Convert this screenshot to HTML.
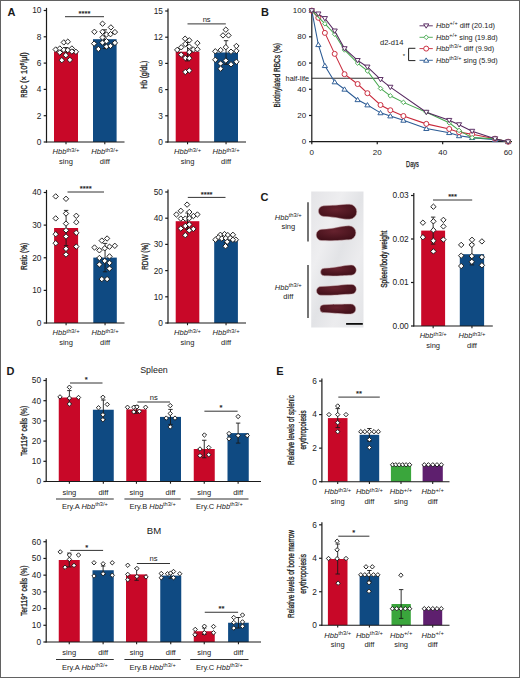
<!DOCTYPE html>
<html><head><meta charset="utf-8"><title>Figure</title>
<style>
html,body{margin:0;padding:0;background:#fff;}
body{width:520px;height:678px;overflow:hidden;position:relative;}
svg{position:absolute;left:0;top:0;display:block;}
svg text{font-family:"Liberation Sans", sans-serif;fill:#1a1a1a;}
.frame{position:absolute;left:0;top:0;width:518px;height:676px;border:1px solid #626262;}
</style></head><body>
<svg width="520" height="678" viewBox="0 0 520 678">
<text x="7.4" y="15.9" font-size="11" text-anchor="start" font-weight="bold" fill="#000">A</text>
<text x="261" y="15.7" font-size="11" text-anchor="start" font-weight="bold" fill="#000">B</text>
<text x="260.6" y="200.6" font-size="11" text-anchor="start" font-weight="bold" fill="#000">C</text>
<text x="6.6" y="374.8" font-size="11" text-anchor="start" font-weight="bold" fill="#000">D</text>
<text x="276.2" y="374.6" font-size="11" text-anchor="start" font-weight="bold" fill="#000">E</text>
<line x1="46.5" y1="7.9" x2="46.5" y2="142.5" stroke="#1a1a1a" stroke-width="1.2"/>
<line x1="43.7" y1="142" x2="46.5" y2="142" stroke="#1a1a1a" stroke-width="1.2"/>
<text x="41.4" y="144.91" font-size="8.3" text-anchor="end">0</text>
<line x1="43.7" y1="115.7" x2="46.5" y2="115.7" stroke="#1a1a1a" stroke-width="1.2"/>
<text x="41.4" y="118.61" font-size="8.3" text-anchor="end">2</text>
<line x1="43.7" y1="89.4" x2="46.5" y2="89.4" stroke="#1a1a1a" stroke-width="1.2"/>
<text x="41.4" y="92.31" font-size="8.3" text-anchor="end">4</text>
<line x1="43.7" y1="63.1" x2="46.5" y2="63.1" stroke="#1a1a1a" stroke-width="1.2"/>
<text x="41.4" y="66" font-size="8.3" text-anchor="end">6</text>
<line x1="43.7" y1="36.8" x2="46.5" y2="36.8" stroke="#1a1a1a" stroke-width="1.2"/>
<text x="41.4" y="39.7" font-size="8.3" text-anchor="end">8</text>
<line x1="43.7" y1="10.5" x2="46.5" y2="10.5" stroke="#1a1a1a" stroke-width="1.2"/>
<text x="41.4" y="13.41" font-size="8.3" text-anchor="end">10</text>
<rect x="54" y="51.5" width="24" height="90.5" fill="#c80828"/>
<rect x="93" y="39.2" width="23.6" height="102.8" fill="#0f4a82"/>
<line x1="46" y1="142" x2="124.5" y2="142" stroke="#1a1a1a" stroke-width="1.1"/>
<line x1="66" y1="142" x2="66" y2="144.2" stroke="#1a1a1a" stroke-width="1.1"/>
<line x1="104.8" y1="142" x2="104.8" y2="144.2" stroke="#1a1a1a" stroke-width="1.1"/>
<line x1="66" y1="47.5" x2="66" y2="55.5" stroke="#1a1a1a" stroke-width="0.9"/>
<line x1="63.8" y1="47.5" x2="68.2" y2="47.5" stroke="#1a1a1a" stroke-width="0.9"/>
<line x1="63.8" y1="55.5" x2="68.2" y2="55.5" stroke="#1a1a1a" stroke-width="0.9"/>
<line x1="104.8" y1="29.8" x2="104.8" y2="48.6" stroke="#1a1a1a" stroke-width="0.9"/>
<line x1="102.6" y1="29.8" x2="107" y2="29.8" stroke="#1a1a1a" stroke-width="0.9"/>
<line x1="102.6" y1="48.6" x2="107" y2="48.6" stroke="#1a1a1a" stroke-width="0.9"/>
<path d="M63.8 39.7L66.5 42.4L63.8 45.1L61.1 42.4Z" fill="#fff" stroke="#111" stroke-width="0.9"/>
<path d="M67.8 39L70.5 41.7L67.8 44.4L65.1 41.7Z" fill="#fff" stroke="#111" stroke-width="0.9"/>
<path d="M55.7 46.8L58.4 49.5L55.7 52.2L53 49.5Z" fill="#fff" stroke="#111" stroke-width="0.9"/>
<path d="M59.8 45.8L62.5 48.5L59.8 51.2L57.1 48.5Z" fill="#fff" stroke="#111" stroke-width="0.9"/>
<path d="M63.8 47.1L66.5 49.8L63.8 52.5L61.1 49.8Z" fill="#fff" stroke="#111" stroke-width="0.9"/>
<path d="M67.8 47.4L70.5 50.1L67.8 52.8L65.1 50.1Z" fill="#fff" stroke="#111" stroke-width="0.9"/>
<path d="M71.9 45.8L74.6 48.5L71.9 51.2L69.2 48.5Z" fill="#fff" stroke="#111" stroke-width="0.9"/>
<path d="M75.9 49.1L78.6 51.8L75.9 54.5L73.2 51.8Z" fill="#fff" stroke="#111" stroke-width="0.9"/>
<path d="M59.8 49.8L62.5 52.5L59.8 55.2L57.1 52.5Z" fill="#fff" stroke="#111" stroke-width="0.9"/>
<path d="M71.9 48.8L74.6 51.5L71.9 54.2L69.2 51.5Z" fill="#fff" stroke="#111" stroke-width="0.9"/>
<path d="M65.8 52.5L68.5 55.2L65.8 57.9L63.1 55.2Z" fill="#fff" stroke="#111" stroke-width="0.9"/>
<path d="M61.8 57.5L64.5 60.2L61.8 62.9L59.1 60.2Z" fill="#fff" stroke="#111" stroke-width="0.9"/>
<path d="M69.9 57.2L72.6 59.9L69.9 62.6L67.2 59.9Z" fill="#fff" stroke="#111" stroke-width="0.9"/>
<path d="M102.5 21L105.2 23.7L102.5 26.4L99.8 23.7Z" fill="#fff" stroke="#111" stroke-width="0.9"/>
<path d="M110.9 24.7L113.6 27.4L110.9 30.1L108.2 27.4Z" fill="#fff" stroke="#111" stroke-width="0.9"/>
<path d="M94.4 29.1L97.1 31.8L94.4 34.5L91.7 31.8Z" fill="#fff" stroke="#111" stroke-width="0.9"/>
<path d="M102.5 29.1L105.2 31.8L102.5 34.5L99.8 31.8Z" fill="#fff" stroke="#111" stroke-width="0.9"/>
<path d="M114.9 29.4L117.6 32.1L114.9 34.8L112.2 32.1Z" fill="#fff" stroke="#111" stroke-width="0.9"/>
<path d="M106.5 31.8L109.2 34.5L106.5 37.2L103.8 34.5Z" fill="#fff" stroke="#111" stroke-width="0.9"/>
<path d="M110.5 31.5L113.2 34.2L110.5 36.9L107.8 34.2Z" fill="#fff" stroke="#111" stroke-width="0.9"/>
<path d="M102.5 34.8L105.2 37.5L102.5 40.2L99.8 37.5Z" fill="#fff" stroke="#111" stroke-width="0.9"/>
<path d="M94.1 40.9L96.8 43.6L94.1 46.3L91.4 43.6Z" fill="#fff" stroke="#111" stroke-width="0.9"/>
<path d="M102.5 39.9L105.2 42.6L102.5 45.3L99.8 42.6Z" fill="#fff" stroke="#111" stroke-width="0.9"/>
<path d="M106.5 38.5L109.2 41.2L106.5 43.9L103.8 41.2Z" fill="#fff" stroke="#111" stroke-width="0.9"/>
<path d="M114.9 40.2L117.6 42.9L114.9 45.6L112.2 42.9Z" fill="#fff" stroke="#111" stroke-width="0.9"/>
<path d="M106.5 43.9L109.2 46.6L106.5 49.3L103.8 46.6Z" fill="#fff" stroke="#111" stroke-width="0.9"/>
<path d="M110.5 43.2L113.2 45.9L110.5 48.6L107.8 45.9Z" fill="#fff" stroke="#111" stroke-width="0.9"/>
<path d="M98.4 46.3L101.1 49L98.4 51.7L95.7 49Z" fill="#fff" stroke="#111" stroke-width="0.9"/>
<line x1="65" y1="16.7" x2="104" y2="16.7" stroke="#333" stroke-width="1.0"/>
<text x="84.5" y="15.9" font-size="7.6" text-anchor="middle" stroke="#1a1a1a" stroke-width="0.2">****</text>
<text x="66" y="154.4" font-size="7.6" text-anchor="middle"><tspan font-style="italic">Hbb</tspan><tspan font-size="5.8" dy="-2.5">th3/+</tspan></text>
<text x="66" y="163.8" font-size="7.5" text-anchor="middle">sing</text>
<text x="104.8" y="154.4" font-size="7.6" text-anchor="middle"><tspan font-style="italic">Hbb</tspan><tspan font-size="5.8" dy="-2.5">th3/+</tspan></text>
<text x="104.8" y="163.8" font-size="7.5" text-anchor="middle">diff</text>
<text transform="translate(26.6 97.8) rotate(-90)" x="0" y="0" font-size="9" stroke="#1a1a1a" stroke-width="0.3" text-anchor="start" textLength="12.6" lengthAdjust="spacingAndGlyphs">RBC</text>
<text transform="translate(26.6 83) rotate(-90)" x="0" y="0" font-size="9" stroke="#1a1a1a" stroke-width="0.3" text-anchor="start" textLength="30.8" lengthAdjust="spacingAndGlyphs">(× 10<tspan font-size="6" dy="-3">6</tspan><tspan dy="3">/μl)</tspan></text>
<line x1="168" y1="8.4" x2="168" y2="142.5" stroke="#1a1a1a" stroke-width="1.2"/>
<line x1="165.2" y1="142" x2="168" y2="142" stroke="#1a1a1a" stroke-width="1.2"/>
<text x="162.9" y="144.91" font-size="8.3" text-anchor="end">0</text>
<line x1="165.2" y1="115.8" x2="168" y2="115.8" stroke="#1a1a1a" stroke-width="1.2"/>
<text x="162.9" y="118.71" font-size="8.3" text-anchor="end">3</text>
<line x1="165.2" y1="89.6" x2="168" y2="89.6" stroke="#1a1a1a" stroke-width="1.2"/>
<text x="162.9" y="92.51" font-size="8.3" text-anchor="end">6</text>
<line x1="165.2" y1="63.4" x2="168" y2="63.4" stroke="#1a1a1a" stroke-width="1.2"/>
<text x="162.9" y="66.31" font-size="8.3" text-anchor="end">9</text>
<line x1="165.2" y1="37.2" x2="168" y2="37.2" stroke="#1a1a1a" stroke-width="1.2"/>
<text x="162.9" y="40.11" font-size="8.3" text-anchor="end">12</text>
<line x1="165.2" y1="11" x2="168" y2="11" stroke="#1a1a1a" stroke-width="1.2"/>
<text x="162.9" y="13.91" font-size="8.3" text-anchor="end">15</text>
<rect x="175.7" y="51.7" width="23.7" height="90.3" fill="#c80828"/>
<rect x="214.1" y="52.5" width="23.9" height="89.5" fill="#0f4a82"/>
<line x1="167.5" y1="142" x2="246" y2="142" stroke="#1a1a1a" stroke-width="1.1"/>
<line x1="187.55" y1="142" x2="187.55" y2="144.2" stroke="#1a1a1a" stroke-width="1.1"/>
<line x1="226.05" y1="142" x2="226.05" y2="144.2" stroke="#1a1a1a" stroke-width="1.1"/>
<line x1="187.55" y1="42.5" x2="187.55" y2="60.9" stroke="#1a1a1a" stroke-width="0.9"/>
<line x1="185.35" y1="42.5" x2="189.75" y2="42.5" stroke="#1a1a1a" stroke-width="0.9"/>
<line x1="185.35" y1="60.9" x2="189.75" y2="60.9" stroke="#1a1a1a" stroke-width="0.9"/>
<line x1="226.05" y1="40.7" x2="226.05" y2="64.3" stroke="#1a1a1a" stroke-width="0.9"/>
<line x1="223.85" y1="40.7" x2="228.25" y2="40.7" stroke="#1a1a1a" stroke-width="0.9"/>
<line x1="223.85" y1="64.3" x2="228.25" y2="64.3" stroke="#1a1a1a" stroke-width="0.9"/>
<path d="M185.1 36L187.8 38.7L185.1 41.4L182.4 38.7Z" fill="#fff" stroke="#111" stroke-width="0.9"/>
<path d="M189.3 37.6L192 40.3L189.3 43L186.6 40.3Z" fill="#fff" stroke="#111" stroke-width="0.9"/>
<path d="M197.4 40.4L200.1 43.1L197.4 45.8L194.7 43.1Z" fill="#fff" stroke="#111" stroke-width="0.9"/>
<path d="M185.3 41.3L188 44L185.3 46.7L182.6 44Z" fill="#fff" stroke="#111" stroke-width="0.9"/>
<path d="M189.3 43.9L192 46.6L189.3 49.3L186.6 46.6Z" fill="#fff" stroke="#111" stroke-width="0.9"/>
<path d="M181.2 44.6L183.9 47.3L181.2 50L178.5 47.3Z" fill="#fff" stroke="#111" stroke-width="0.9"/>
<path d="M177.2 47.2L179.9 49.9L177.2 52.6L174.5 49.9Z" fill="#fff" stroke="#111" stroke-width="0.9"/>
<path d="M193.4 46.8L196.1 49.5L193.4 52.2L190.7 49.5Z" fill="#fff" stroke="#111" stroke-width="0.9"/>
<path d="M197.4 46.6L200.1 49.3L197.4 52L194.7 49.3Z" fill="#fff" stroke="#111" stroke-width="0.9"/>
<path d="M189.3 49.4L192 52.1L189.3 54.8L186.6 52.1Z" fill="#fff" stroke="#111" stroke-width="0.9"/>
<path d="M181.2 52L183.9 54.7L181.2 57.4L178.5 54.7Z" fill="#fff" stroke="#111" stroke-width="0.9"/>
<path d="M185.3 55.3L188 58L185.3 60.7L182.6 58Z" fill="#fff" stroke="#111" stroke-width="0.9"/>
<path d="M189.3 55.5L192 58.2L189.3 60.9L186.6 58.2Z" fill="#fff" stroke="#111" stroke-width="0.9"/>
<path d="M185.3 69.3L188 72L185.3 74.7L182.6 72Z" fill="#fff" stroke="#111" stroke-width="0.9"/>
<path d="M189.3 67.8L192 70.5L189.3 73.2L186.6 70.5Z" fill="#fff" stroke="#111" stroke-width="0.9"/>
<path d="M225.8 27L228.5 29.7L225.8 32.4L223.1 29.7Z" fill="#fff" stroke="#111" stroke-width="0.9"/>
<path d="M223 32.7L225.7 35.4L223 38.1L220.3 35.4Z" fill="#fff" stroke="#111" stroke-width="0.9"/>
<path d="M228.5 32.7L231.2 35.4L228.5 38.1L225.8 35.4Z" fill="#fff" stroke="#111" stroke-width="0.9"/>
<path d="M225.8 44.5L228.5 47.2L225.8 49.9L223.1 47.2Z" fill="#fff" stroke="#111" stroke-width="0.9"/>
<path d="M236.4 43.3L239.1 46L236.4 48.7L233.7 46Z" fill="#fff" stroke="#111" stroke-width="0.9"/>
<path d="M215.3 48.6L218 51.3L215.3 54L212.6 51.3Z" fill="#fff" stroke="#111" stroke-width="0.9"/>
<path d="M220.6 47.4L223.3 50.1L220.6 52.8L217.9 50.1Z" fill="#fff" stroke="#111" stroke-width="0.9"/>
<path d="M231 49L233.7 51.7L231 54.4L228.3 51.7Z" fill="#fff" stroke="#111" stroke-width="0.9"/>
<path d="M236.4 48.2L239.1 50.9L236.4 53.6L233.7 50.9Z" fill="#fff" stroke="#111" stroke-width="0.9"/>
<path d="M215.3 57.1L218 59.8L215.3 62.5L212.6 59.8Z" fill="#fff" stroke="#111" stroke-width="0.9"/>
<path d="M225.8 57.9L228.5 60.6L225.8 63.3L223.1 60.6Z" fill="#fff" stroke="#111" stroke-width="0.9"/>
<path d="M220.6 60.8L223.3 63.5L220.6 66.2L217.9 63.5Z" fill="#fff" stroke="#111" stroke-width="0.9"/>
<path d="M231 61.6L233.7 64.3L231 67L228.3 64.3Z" fill="#fff" stroke="#111" stroke-width="0.9"/>
<path d="M236.4 59.1L239.1 61.8L236.4 64.5L233.7 61.8Z" fill="#fff" stroke="#111" stroke-width="0.9"/>
<path d="M220.6 66L223.3 68.7L220.6 71.4L217.9 68.7Z" fill="#fff" stroke="#111" stroke-width="0.9"/>
<line x1="187.5" y1="23.9" x2="225.8" y2="23.9" stroke="#333" stroke-width="1.0"/>
<text x="206.65" y="21.6" font-size="7.6" text-anchor="middle">ns</text>
<text x="187.55" y="154.4" font-size="7.6" text-anchor="middle"><tspan font-style="italic">Hbb</tspan><tspan font-size="5.8" dy="-2.5">th3/+</tspan></text>
<text x="187.55" y="163.8" font-size="7.5" text-anchor="middle">sing</text>
<text x="226.05" y="154.4" font-size="7.6" text-anchor="middle"><tspan font-style="italic">Hbb</tspan><tspan font-size="5.8" dy="-2.5">th3/+</tspan></text>
<text x="226.05" y="163.8" font-size="7.5" text-anchor="middle">diff</text>
<text transform="translate(147.3 74.75) rotate(-90)" x="0" y="0" font-size="8.8" stroke="#1a1a1a" stroke-width="0.3" text-anchor="middle" textLength="27.9" lengthAdjust="spacingAndGlyphs">Hb (g/dL)</text>
<line x1="46.5" y1="189.9" x2="46.5" y2="323.5" stroke="#1a1a1a" stroke-width="1.2"/>
<line x1="43.7" y1="323" x2="46.5" y2="323" stroke="#1a1a1a" stroke-width="1.2"/>
<text x="41.4" y="325.9" font-size="8.3" text-anchor="end">0</text>
<line x1="43.7" y1="290.38" x2="46.5" y2="290.38" stroke="#1a1a1a" stroke-width="1.2"/>
<text x="41.4" y="293.28" font-size="8.3" text-anchor="end">10</text>
<line x1="43.7" y1="257.75" x2="46.5" y2="257.75" stroke="#1a1a1a" stroke-width="1.2"/>
<text x="41.4" y="260.65" font-size="8.3" text-anchor="end">20</text>
<line x1="43.7" y1="225.12" x2="46.5" y2="225.12" stroke="#1a1a1a" stroke-width="1.2"/>
<text x="41.4" y="228.03" font-size="8.3" text-anchor="end">30</text>
<line x1="43.7" y1="192.5" x2="46.5" y2="192.5" stroke="#1a1a1a" stroke-width="1.2"/>
<text x="41.4" y="195.41" font-size="8.3" text-anchor="end">40</text>
<rect x="54.1" y="228" width="24" height="95" fill="#c80828"/>
<rect x="93.3" y="257.6" width="23.5" height="65.4" fill="#0f4a82"/>
<line x1="46" y1="323" x2="124.5" y2="323" stroke="#1a1a1a" stroke-width="1.1"/>
<line x1="66.1" y1="323" x2="66.1" y2="325.2" stroke="#1a1a1a" stroke-width="1.1"/>
<line x1="105.05" y1="323" x2="105.05" y2="325.2" stroke="#1a1a1a" stroke-width="1.1"/>
<line x1="66.1" y1="210.4" x2="66.1" y2="245.6" stroke="#1a1a1a" stroke-width="0.9"/>
<line x1="63.9" y1="210.4" x2="68.3" y2="210.4" stroke="#1a1a1a" stroke-width="0.9"/>
<line x1="63.9" y1="245.6" x2="68.3" y2="245.6" stroke="#1a1a1a" stroke-width="0.9"/>
<line x1="105.05" y1="243.4" x2="105.05" y2="271.8" stroke="#1a1a1a" stroke-width="0.9"/>
<line x1="102.85" y1="243.4" x2="107.25" y2="243.4" stroke="#1a1a1a" stroke-width="0.9"/>
<line x1="102.85" y1="271.8" x2="107.25" y2="271.8" stroke="#1a1a1a" stroke-width="0.9"/>
<path d="M55.7 193.7L58.4 196.4L55.7 199.1L53 196.4Z" fill="#fff" stroke="#111" stroke-width="0.9"/>
<path d="M66 196.1L68.7 198.8L66 201.5L63.3 198.8Z" fill="#fff" stroke="#111" stroke-width="0.9"/>
<path d="M66 210.8L68.7 213.5L66 216.2L63.3 213.5Z" fill="#fff" stroke="#111" stroke-width="0.9"/>
<path d="M55.7 215.7L58.4 218.4L55.7 221.1L53 218.4Z" fill="#fff" stroke="#111" stroke-width="0.9"/>
<path d="M76.3 213.1L79 215.8L76.3 218.5L73.6 215.8Z" fill="#fff" stroke="#111" stroke-width="0.9"/>
<path d="M76.3 219.5L79 222.2L76.3 224.9L73.6 222.2Z" fill="#fff" stroke="#111" stroke-width="0.9"/>
<path d="M66 220.9L68.7 223.6L66 226.3L63.3 223.6Z" fill="#fff" stroke="#111" stroke-width="0.9"/>
<path d="M66 227.6L68.7 230.3L66 233L63.3 230.3Z" fill="#fff" stroke="#111" stroke-width="0.9"/>
<path d="M55.7 231.5L58.4 234.2L55.7 236.9L53 234.2Z" fill="#fff" stroke="#111" stroke-width="0.9"/>
<path d="M76.3 230.1L79 232.8L76.3 235.5L73.6 232.8Z" fill="#fff" stroke="#111" stroke-width="0.9"/>
<path d="M66 233.8L68.7 236.5L66 239.2L63.3 236.5Z" fill="#fff" stroke="#111" stroke-width="0.9"/>
<path d="M55.7 240.5L58.4 243.2L55.7 245.9L53 243.2Z" fill="#fff" stroke="#111" stroke-width="0.9"/>
<path d="M76.3 243.9L79 246.6L76.3 249.3L73.6 246.6Z" fill="#fff" stroke="#111" stroke-width="0.9"/>
<path d="M66 246.1L68.7 248.8L66 251.5L63.3 248.8Z" fill="#fff" stroke="#111" stroke-width="0.9"/>
<path d="M66 251.8L68.7 254.5L66 257.2L63.3 254.5Z" fill="#fff" stroke="#111" stroke-width="0.9"/>
<path d="M101.8 237.9L104.5 240.6L101.8 243.3L99.1 240.6Z" fill="#fff" stroke="#111" stroke-width="0.9"/>
<path d="M107.1 235.8L109.8 238.5L107.1 241.2L104.4 238.5Z" fill="#fff" stroke="#111" stroke-width="0.9"/>
<path d="M94.5 244.8L97.2 247.5L94.5 250.2L91.8 247.5Z" fill="#fff" stroke="#111" stroke-width="0.9"/>
<path d="M99.4 247.6L102.1 250.3L99.4 253L96.7 250.3Z" fill="#fff" stroke="#111" stroke-width="0.9"/>
<path d="M104.7 245.6L107.4 248.3L104.7 251L102 248.3Z" fill="#fff" stroke="#111" stroke-width="0.9"/>
<path d="M109.5 244L112.2 246.7L109.5 249.4L106.8 246.7Z" fill="#fff" stroke="#111" stroke-width="0.9"/>
<path d="M114.8 243.1L117.5 245.8L114.8 248.5L112.1 245.8Z" fill="#fff" stroke="#111" stroke-width="0.9"/>
<path d="M99.4 255.3L102.1 258L99.4 260.7L96.7 258Z" fill="#fff" stroke="#111" stroke-width="0.9"/>
<path d="M109.5 253.7L112.2 256.4L109.5 259.1L106.8 256.4Z" fill="#fff" stroke="#111" stroke-width="0.9"/>
<path d="M104.7 258.2L107.4 260.9L104.7 263.6L102 260.9Z" fill="#fff" stroke="#111" stroke-width="0.9"/>
<path d="M99.4 261.8L102.1 264.5L99.4 267.2L96.7 264.5Z" fill="#fff" stroke="#111" stroke-width="0.9"/>
<path d="M109.5 260.2L112.2 262.9L109.5 265.6L106.8 262.9Z" fill="#fff" stroke="#111" stroke-width="0.9"/>
<path d="M109.5 265.9L112.2 268.6L109.5 271.3L106.8 268.6Z" fill="#fff" stroke="#111" stroke-width="0.9"/>
<path d="M101.8 276.4L104.5 279.1L101.8 281.8L99.1 279.1Z" fill="#fff" stroke="#111" stroke-width="0.9"/>
<path d="M107.1 276.4L109.8 279.1L107.1 281.8L104.4 279.1Z" fill="#fff" stroke="#111" stroke-width="0.9"/>
<line x1="67.5" y1="192" x2="104" y2="192" stroke="#333" stroke-width="1.0"/>
<text x="85.75" y="191.2" font-size="7.6" text-anchor="middle" stroke="#1a1a1a" stroke-width="0.2">****</text>
<text x="66.1" y="335.4" font-size="7.6" text-anchor="middle"><tspan font-style="italic">Hbb</tspan><tspan font-size="5.8" dy="-2.5">th3/+</tspan></text>
<text x="66.1" y="344.8" font-size="7.5" text-anchor="middle">sing</text>
<text x="105.05" y="335.4" font-size="7.6" text-anchor="middle"><tspan font-style="italic">Hbb</tspan><tspan font-size="5.8" dy="-2.5">th3/+</tspan></text>
<text x="105.05" y="344.8" font-size="7.5" text-anchor="middle">diff</text>
<text transform="translate(26.8 256.3) rotate(-90)" x="0" y="0" font-size="9" stroke="#1a1a1a" stroke-width="0.3" text-anchor="middle" textLength="27.2" lengthAdjust="spacingAndGlyphs">Retic (%)</text>
<line x1="168" y1="189.4" x2="168" y2="323.5" stroke="#1a1a1a" stroke-width="1.2"/>
<line x1="165.2" y1="323" x2="168" y2="323" stroke="#1a1a1a" stroke-width="1.2"/>
<text x="162.9" y="325.9" font-size="8.3" text-anchor="end">0</text>
<line x1="165.2" y1="296.8" x2="168" y2="296.8" stroke="#1a1a1a" stroke-width="1.2"/>
<text x="162.9" y="299.7" font-size="8.3" text-anchor="end">10</text>
<line x1="165.2" y1="270.6" x2="168" y2="270.6" stroke="#1a1a1a" stroke-width="1.2"/>
<text x="162.9" y="273.5" font-size="8.3" text-anchor="end">20</text>
<line x1="165.2" y1="244.4" x2="168" y2="244.4" stroke="#1a1a1a" stroke-width="1.2"/>
<text x="162.9" y="247.3" font-size="8.3" text-anchor="end">30</text>
<line x1="165.2" y1="218.2" x2="168" y2="218.2" stroke="#1a1a1a" stroke-width="1.2"/>
<text x="162.9" y="221.1" font-size="8.3" text-anchor="end">40</text>
<line x1="165.2" y1="192" x2="168" y2="192" stroke="#1a1a1a" stroke-width="1.2"/>
<text x="162.9" y="194.91" font-size="8.3" text-anchor="end">50</text>
<rect x="175.7" y="221.2" width="23.6" height="101.8" fill="#c80828"/>
<rect x="214.2" y="239.5" width="23.7" height="83.5" fill="#0f4a82"/>
<line x1="167.5" y1="323" x2="246" y2="323" stroke="#1a1a1a" stroke-width="1.1"/>
<line x1="187.5" y1="323" x2="187.5" y2="325.2" stroke="#1a1a1a" stroke-width="1.1"/>
<line x1="226.05" y1="323" x2="226.05" y2="325.2" stroke="#1a1a1a" stroke-width="1.1"/>
<line x1="187.5" y1="213" x2="187.5" y2="229.4" stroke="#1a1a1a" stroke-width="0.9"/>
<line x1="185.3" y1="213" x2="189.7" y2="213" stroke="#1a1a1a" stroke-width="0.9"/>
<line x1="185.3" y1="229.4" x2="189.7" y2="229.4" stroke="#1a1a1a" stroke-width="0.9"/>
<line x1="226.05" y1="236.5" x2="226.05" y2="242.5" stroke="#1a1a1a" stroke-width="0.9"/>
<line x1="223.85" y1="236.5" x2="228.25" y2="236.5" stroke="#1a1a1a" stroke-width="0.9"/>
<line x1="223.85" y1="242.5" x2="228.25" y2="242.5" stroke="#1a1a1a" stroke-width="0.9"/>
<path d="M187.1 201.9L189.8 204.6L187.1 207.3L184.4 204.6Z" fill="#fff" stroke="#111" stroke-width="0.9"/>
<path d="M180.8 208.1L183.5 210.8L180.8 213.5L178.1 210.8Z" fill="#fff" stroke="#111" stroke-width="0.9"/>
<path d="M189.3 209.3L192 212L189.3 214.7L186.6 212Z" fill="#fff" stroke="#111" stroke-width="0.9"/>
<path d="M176.4 211.8L179.1 214.5L176.4 217.2L173.7 214.5Z" fill="#fff" stroke="#111" stroke-width="0.9"/>
<path d="M193.4 213.3L196.1 216L193.4 218.7L190.7 216Z" fill="#fff" stroke="#111" stroke-width="0.9"/>
<path d="M197.4 211.8L200.1 214.5L197.4 217.2L194.7 214.5Z" fill="#fff" stroke="#111" stroke-width="0.9"/>
<path d="M180.8 215.9L183.5 218.6L180.8 221.3L178.1 218.6Z" fill="#fff" stroke="#111" stroke-width="0.9"/>
<path d="M185.3 215.9L188 218.6L185.3 221.3L182.6 218.6Z" fill="#fff" stroke="#111" stroke-width="0.9"/>
<path d="M189.3 215.5L192 218.2L189.3 220.9L186.6 218.2Z" fill="#fff" stroke="#111" stroke-width="0.9"/>
<path d="M189.3 221.8L192 224.5L189.3 227.2L186.6 224.5Z" fill="#fff" stroke="#111" stroke-width="0.9"/>
<path d="M185.3 223.3L188 226L185.3 228.7L182.6 226Z" fill="#fff" stroke="#111" stroke-width="0.9"/>
<path d="M180.8 225.8L183.5 228.5L180.8 231.2L178.1 228.5Z" fill="#fff" stroke="#111" stroke-width="0.9"/>
<path d="M189.3 227.7L192 230.4L189.3 233.1L186.6 230.4Z" fill="#fff" stroke="#111" stroke-width="0.9"/>
<path d="M193.4 226.2L196.1 228.9L193.4 231.6L190.7 228.9Z" fill="#fff" stroke="#111" stroke-width="0.9"/>
<path d="M185.3 232.5L188 235.2L185.3 237.9L182.6 235.2Z" fill="#fff" stroke="#111" stroke-width="0.9"/>
<path d="M220.4 232.1L223.1 234.8L220.4 237.5L217.7 234.8Z" fill="#fff" stroke="#111" stroke-width="0.9"/>
<path d="M224.5 231.4L227.2 234.1L224.5 236.8L221.8 234.1Z" fill="#fff" stroke="#111" stroke-width="0.9"/>
<path d="M227.8 232.4L230.5 235.1L227.8 237.8L225.1 235.1Z" fill="#fff" stroke="#111" stroke-width="0.9"/>
<path d="M232.9 232.1L235.6 234.8L232.9 237.5L230.2 234.8Z" fill="#fff" stroke="#111" stroke-width="0.9"/>
<path d="M218.4 234.7L221.1 237.4L218.4 240.1L215.7 237.4Z" fill="#fff" stroke="#111" stroke-width="0.9"/>
<path d="M221.8 235.8L224.5 238.5L221.8 241.2L219.1 238.5Z" fill="#fff" stroke="#111" stroke-width="0.9"/>
<path d="M225.8 235.4L228.5 238.1L225.8 240.8L223.1 238.1Z" fill="#fff" stroke="#111" stroke-width="0.9"/>
<path d="M230.2 235.4L232.9 238.1L230.2 240.8L227.5 238.1Z" fill="#fff" stroke="#111" stroke-width="0.9"/>
<path d="M215.4 237L218.1 239.7L215.4 242.4L212.7 239.7Z" fill="#fff" stroke="#111" stroke-width="0.9"/>
<path d="M235.9 237L238.6 239.7L235.9 242.4L233.2 239.7Z" fill="#fff" stroke="#111" stroke-width="0.9"/>
<path d="M232.9 237.1L235.6 239.8L232.9 242.5L230.2 239.8Z" fill="#fff" stroke="#111" stroke-width="0.9"/>
<path d="M227.2 239.1L229.9 241.8L227.2 244.5L224.5 241.8Z" fill="#fff" stroke="#111" stroke-width="0.9"/>
<path d="M225.5 243.5L228.2 246.2L225.5 248.9L222.8 246.2Z" fill="#fff" stroke="#111" stroke-width="0.9"/>
<line x1="187.8" y1="197.4" x2="225.5" y2="197.4" stroke="#333" stroke-width="1.0"/>
<text x="206.65" y="196.6" font-size="7.6" text-anchor="middle" stroke="#1a1a1a" stroke-width="0.2">****</text>
<text x="187.5" y="335.4" font-size="7.6" text-anchor="middle"><tspan font-style="italic">Hbb</tspan><tspan font-size="5.8" dy="-2.5">th3/+</tspan></text>
<text x="187.5" y="344.8" font-size="7.5" text-anchor="middle">sing</text>
<text x="226.05" y="335.4" font-size="7.6" text-anchor="middle"><tspan font-style="italic">Hbb</tspan><tspan font-size="5.8" dy="-2.5">th3/+</tspan></text>
<text x="226.05" y="344.8" font-size="7.5" text-anchor="middle">diff</text>
<text transform="translate(147.8 256.3) rotate(-90)" x="0" y="0" font-size="8.8" stroke="#1a1a1a" stroke-width="0.3" text-anchor="middle" textLength="27" lengthAdjust="spacingAndGlyphs">RDW (%)</text>
<line x1="413.8" y1="192.9" x2="413.8" y2="326.5" stroke="#1a1a1a" stroke-width="1.2"/>
<line x1="411" y1="326" x2="413.8" y2="326" stroke="#1a1a1a" stroke-width="1.2"/>
<text x="408.7" y="328.9" font-size="8.3" text-anchor="end">0.00</text>
<line x1="411" y1="282.5" x2="413.8" y2="282.5" stroke="#1a1a1a" stroke-width="1.2"/>
<text x="408.7" y="285.4" font-size="8.3" text-anchor="end">0.01</text>
<line x1="411" y1="239" x2="413.8" y2="239" stroke="#1a1a1a" stroke-width="1.2"/>
<text x="408.7" y="241.91" font-size="8.3" text-anchor="end">0.02</text>
<line x1="411" y1="195.5" x2="413.8" y2="195.5" stroke="#1a1a1a" stroke-width="1.2"/>
<text x="408.7" y="198.41" font-size="8.3" text-anchor="end">0.03</text>
<rect x="421.2" y="230.6" width="23.9" height="95.4" fill="#c80828"/>
<rect x="459.8" y="254.2" width="24.3" height="71.8" fill="#0f4a82"/>
<line x1="413.3" y1="326" x2="492.8" y2="326" stroke="#1a1a1a" stroke-width="1.1"/>
<line x1="433.15" y1="326" x2="433.15" y2="328.2" stroke="#1a1a1a" stroke-width="1.1"/>
<line x1="471.95" y1="326" x2="471.95" y2="328.2" stroke="#1a1a1a" stroke-width="1.1"/>
<line x1="433.15" y1="217.1" x2="433.15" y2="244.1" stroke="#1a1a1a" stroke-width="0.9"/>
<line x1="430.95" y1="217.1" x2="435.35" y2="217.1" stroke="#1a1a1a" stroke-width="0.9"/>
<line x1="430.95" y1="244.1" x2="435.35" y2="244.1" stroke="#1a1a1a" stroke-width="0.9"/>
<line x1="471.95" y1="243.5" x2="471.95" y2="264.9" stroke="#1a1a1a" stroke-width="0.9"/>
<line x1="469.75" y1="243.5" x2="474.15" y2="243.5" stroke="#1a1a1a" stroke-width="0.9"/>
<line x1="469.75" y1="264.9" x2="474.15" y2="264.9" stroke="#1a1a1a" stroke-width="0.9"/>
<path d="M433.4 204L436.1 206.7L433.4 209.4L430.7 206.7Z" fill="#fff" stroke="#111" stroke-width="0.9"/>
<path d="M422.9 220L425.6 222.7L422.9 225.4L420.2 222.7Z" fill="#fff" stroke="#111" stroke-width="0.9"/>
<path d="M433.4 218.6L436.1 221.3L433.4 224L430.7 221.3Z" fill="#fff" stroke="#111" stroke-width="0.9"/>
<path d="M443.4 217.2L446.1 219.9L443.4 222.6L440.7 219.9Z" fill="#fff" stroke="#111" stroke-width="0.9"/>
<path d="M443.4 223.7L446.1 226.4L443.4 229.1L440.7 226.4Z" fill="#fff" stroke="#111" stroke-width="0.9"/>
<path d="M433.4 227.5L436.1 230.2L433.4 232.9L430.7 230.2Z" fill="#fff" stroke="#111" stroke-width="0.9"/>
<path d="M422.9 234.5L425.6 237.2L422.9 239.9L420.2 237.2Z" fill="#fff" stroke="#111" stroke-width="0.9"/>
<path d="M433.4 238L436.1 240.7L433.4 243.4L430.7 240.7Z" fill="#fff" stroke="#111" stroke-width="0.9"/>
<path d="M443.4 236.9L446.1 239.6L443.4 242.3L440.7 239.6Z" fill="#fff" stroke="#111" stroke-width="0.9"/>
<path d="M433.4 248.7L436.1 251.4L433.4 254.1L430.7 251.4Z" fill="#fff" stroke="#111" stroke-width="0.9"/>
<path d="M472 237.1L474.7 239.8L472 242.5L469.3 239.8Z" fill="#fff" stroke="#111" stroke-width="0.9"/>
<path d="M481.9 238.7L484.6 241.4L481.9 244.1L479.2 241.4Z" fill="#fff" stroke="#111" stroke-width="0.9"/>
<path d="M461.2 242.2L463.9 244.9L461.2 247.6L458.5 244.9Z" fill="#fff" stroke="#111" stroke-width="0.9"/>
<path d="M471.8 242.2L474.5 244.9L471.8 247.6L469.1 244.9Z" fill="#fff" stroke="#111" stroke-width="0.9"/>
<path d="M461.2 253L463.9 255.7L461.2 258.4L458.5 255.7Z" fill="#fff" stroke="#111" stroke-width="0.9"/>
<path d="M471.8 253.4L474.5 256.1L471.8 258.8L469.1 256.1Z" fill="#fff" stroke="#111" stroke-width="0.9"/>
<path d="M481.9 254.4L484.6 257.1L481.9 259.8L479.2 257.1Z" fill="#fff" stroke="#111" stroke-width="0.9"/>
<path d="M471.8 259.1L474.5 261.8L471.8 264.5L469.1 261.8Z" fill="#fff" stroke="#111" stroke-width="0.9"/>
<path d="M461.2 263.3L463.9 266L461.2 268.7L458.5 266Z" fill="#fff" stroke="#111" stroke-width="0.9"/>
<path d="M481.9 262.6L484.6 265.3L481.9 268L479.2 265.3Z" fill="#fff" stroke="#111" stroke-width="0.9"/>
<line x1="433" y1="200" x2="472.2" y2="200" stroke="#333" stroke-width="1.0"/>
<text x="452.6" y="199.2" font-size="7.6" text-anchor="middle" stroke="#1a1a1a" stroke-width="0.2">***</text>
<text x="433.15" y="338.4" font-size="7.6" text-anchor="middle"><tspan font-style="italic">Hbb</tspan><tspan font-size="5.8" dy="-2.5">th3/+</tspan></text>
<text x="433.15" y="347.8" font-size="7.5" text-anchor="middle">sing</text>
<text x="471.95" y="338.4" font-size="7.6" text-anchor="middle"><tspan font-style="italic">Hbb</tspan><tspan font-size="5.8" dy="-2.5">th3/+</tspan></text>
<text x="471.95" y="347.8" font-size="7.5" text-anchor="middle">diff</text>
<text transform="translate(386.9 259.2) rotate(-90)" x="0" y="0" font-size="8.4" stroke="#1a1a1a" stroke-width="0.3" text-anchor="middle" textLength="57.2" lengthAdjust="spacingAndGlyphs">Spleen/body weight</text>
<line x1="311.8" y1="8.3" x2="311.8" y2="142.2" stroke="#1a1a1a" stroke-width="1.2"/>
<line x1="309" y1="141.7" x2="311.8" y2="141.7" stroke="#1a1a1a" stroke-width="1.2"/>
<text x="306.2" y="144.35" font-size="8" text-anchor="end">0</text>
<line x1="309" y1="115.48" x2="311.8" y2="115.48" stroke="#1a1a1a" stroke-width="1.2"/>
<text x="306.2" y="118.13" font-size="8" text-anchor="end">20</text>
<line x1="309" y1="89.26" x2="311.8" y2="89.26" stroke="#1a1a1a" stroke-width="1.2"/>
<text x="306.2" y="91.91" font-size="8" text-anchor="end">40</text>
<line x1="309" y1="63.04" x2="311.8" y2="63.04" stroke="#1a1a1a" stroke-width="1.2"/>
<text x="306.2" y="65.69" font-size="8" text-anchor="end">60</text>
<line x1="309" y1="36.82" x2="311.8" y2="36.82" stroke="#1a1a1a" stroke-width="1.2"/>
<text x="306.2" y="39.47" font-size="8" text-anchor="end">80</text>
<line x1="309" y1="10.6" x2="311.8" y2="10.6" stroke="#1a1a1a" stroke-width="1.2"/>
<text x="306.2" y="13.25" font-size="8" text-anchor="end">100</text>
<line x1="311.2" y1="141.7" x2="512" y2="141.7" stroke="#1a1a1a" stroke-width="1.2"/>
<line x1="311.8" y1="141.7" x2="311.8" y2="144.2" stroke="#1a1a1a" stroke-width="1.2"/>
<text x="311.8" y="154.6" font-size="8" text-anchor="middle">0</text>
<line x1="377.24" y1="141.7" x2="377.24" y2="144.2" stroke="#1a1a1a" stroke-width="1.2"/>
<text x="377.24" y="154.6" font-size="8" text-anchor="middle">20</text>
<line x1="442.68" y1="141.7" x2="442.68" y2="144.2" stroke="#1a1a1a" stroke-width="1.2"/>
<text x="442.68" y="154.6" font-size="8" text-anchor="middle">40</text>
<line x1="508.12" y1="141.7" x2="508.12" y2="144.2" stroke="#1a1a1a" stroke-width="1.2"/>
<text x="508.12" y="154.6" font-size="8" text-anchor="middle">60</text>
<text x="412.5" y="167.2" font-size="8.8" stroke="#1a1a1a" stroke-width="0.25" text-anchor="middle" textLength="12.8" lengthAdjust="spacingAndGlyphs">Days</text>
<text transform="translate(279.8 75.2) rotate(-90)" x="0" y="0" font-size="8.8" stroke="#1a1a1a" stroke-width="0.3" text-anchor="middle" textLength="64.4" lengthAdjust="spacingAndGlyphs">Biotinylated RBCs (%)</text>
<line x1="311.8" y1="78.3" x2="380" y2="78.3" stroke="#333" stroke-width="1.1"/>
<text x="285.6" y="80.6" font-size="7.3" text-anchor="start">half-life</text>
<polyline points="311.8,10.6 318.34,44.69 324.89,65.66 334.7,81.92 344.52,89.26 357.61,99.75 367.42,104.99 380.51,112.86 390.33,116 403.42,120.33 426.32,128.59 449.22,132.65 459.04,135.8 472.13,137.64 495.03,139.73 508.12,141.7" fill="none" stroke="#2a5a94" stroke-width="1.05"/>
<path d="M309.2 12.5L314.4 12.5L311.8 8.2Z" fill="#fff" stroke="#2a5a94" stroke-width="0.95"/>
<path d="M315.74 46.59L320.94 46.59L318.34 42.29Z" fill="#fff" stroke="#2a5a94" stroke-width="0.95"/>
<path d="M322.29 67.56L327.49 67.56L324.89 63.26Z" fill="#fff" stroke="#2a5a94" stroke-width="0.95"/>
<path d="M332.1 83.82L337.3 83.82L334.7 79.52Z" fill="#fff" stroke="#2a5a94" stroke-width="0.95"/>
<path d="M341.92 91.16L347.12 91.16L344.52 86.86Z" fill="#fff" stroke="#2a5a94" stroke-width="0.95"/>
<path d="M355.01 101.65L360.21 101.65L357.61 97.35Z" fill="#fff" stroke="#2a5a94" stroke-width="0.95"/>
<path d="M364.82 106.89L370.02 106.89L367.42 102.59Z" fill="#fff" stroke="#2a5a94" stroke-width="0.95"/>
<path d="M377.91 114.76L383.11 114.76L380.51 110.46Z" fill="#fff" stroke="#2a5a94" stroke-width="0.95"/>
<path d="M387.73 117.9L392.93 117.9L390.33 113.6Z" fill="#fff" stroke="#2a5a94" stroke-width="0.95"/>
<path d="M400.82 122.23L406.02 122.23L403.42 117.93Z" fill="#fff" stroke="#2a5a94" stroke-width="0.95"/>
<path d="M423.72 130.49L428.92 130.49L426.32 126.19Z" fill="#fff" stroke="#2a5a94" stroke-width="0.95"/>
<path d="M446.62 134.55L451.82 134.55L449.22 130.25Z" fill="#fff" stroke="#2a5a94" stroke-width="0.95"/>
<path d="M456.44 137.7L461.64 137.7L459.04 133.4Z" fill="#fff" stroke="#2a5a94" stroke-width="0.95"/>
<path d="M469.53 139.54L474.73 139.54L472.13 135.24Z" fill="#fff" stroke="#2a5a94" stroke-width="0.95"/>
<path d="M492.43 141.63L497.63 141.63L495.03 137.33Z" fill="#fff" stroke="#2a5a94" stroke-width="0.95"/>
<path d="M505.52 143.6L510.72 143.6L508.12 139.3Z" fill="#fff" stroke="#2a5a94" stroke-width="0.95"/>
<polyline points="311.8,10.6 318.34,17.81 324.89,32.89 334.7,53.86 344.52,74.18 357.61,84.02 367.42,93.19 380.51,104.99 390.33,110.24 403.42,116 426.32,123.87 449.22,128.98 459.04,132.13 472.13,134.23 495.03,138.68 508.12,141.7" fill="none" stroke="#c8283a" stroke-width="1.05"/>
<circle cx="311.8" cy="10.6" r="2.5" fill="#fff" stroke="#c8283a" stroke-width="0.95"/>
<circle cx="318.34" cy="17.81" r="2.5" fill="#fff" stroke="#c8283a" stroke-width="0.95"/>
<circle cx="324.89" cy="32.89" r="2.5" fill="#fff" stroke="#c8283a" stroke-width="0.95"/>
<circle cx="334.7" cy="53.86" r="2.5" fill="#fff" stroke="#c8283a" stroke-width="0.95"/>
<circle cx="344.52" cy="74.18" r="2.5" fill="#fff" stroke="#c8283a" stroke-width="0.95"/>
<circle cx="357.61" cy="84.02" r="2.5" fill="#fff" stroke="#c8283a" stroke-width="0.95"/>
<circle cx="367.42" cy="93.19" r="2.5" fill="#fff" stroke="#c8283a" stroke-width="0.95"/>
<circle cx="380.51" cy="104.99" r="2.5" fill="#fff" stroke="#c8283a" stroke-width="0.95"/>
<circle cx="390.33" cy="110.24" r="2.5" fill="#fff" stroke="#c8283a" stroke-width="0.95"/>
<circle cx="403.42" cy="116" r="2.5" fill="#fff" stroke="#c8283a" stroke-width="0.95"/>
<circle cx="426.32" cy="123.87" r="2.5" fill="#fff" stroke="#c8283a" stroke-width="0.95"/>
<circle cx="449.22" cy="128.98" r="2.5" fill="#fff" stroke="#c8283a" stroke-width="0.95"/>
<circle cx="459.04" cy="132.13" r="2.5" fill="#fff" stroke="#c8283a" stroke-width="0.95"/>
<circle cx="472.13" cy="134.23" r="2.5" fill="#fff" stroke="#c8283a" stroke-width="0.95"/>
<circle cx="495.03" cy="138.68" r="2.5" fill="#fff" stroke="#c8283a" stroke-width="0.95"/>
<circle cx="508.12" cy="141.7" r="2.5" fill="#fff" stroke="#c8283a" stroke-width="0.95"/>
<polyline points="311.8,10.6 324.89,23.71 334.7,34.2 344.52,49.93 357.61,63.04 367.42,70.91 380.51,88.47 390.33,95.81 403.42,102.37 426.32,112.2 449.22,122.82 459.04,130.43 472.13,137.64 495.03,138.68 508.12,141.7" fill="none" stroke="#46a84f" stroke-width="1.05"/>
<path d="M311.8 8.3L314.1 10.6L311.8 12.9L309.5 10.6Z" fill="#fff" stroke="#46a84f" stroke-width="0.95"/>
<path d="M324.89 21.41L327.19 23.71L324.89 26.01L322.59 23.71Z" fill="#fff" stroke="#46a84f" stroke-width="0.95"/>
<path d="M334.7 31.9L337 34.2L334.7 36.5L332.4 34.2Z" fill="#fff" stroke="#46a84f" stroke-width="0.95"/>
<path d="M344.52 47.63L346.82 49.93L344.52 52.23L342.22 49.93Z" fill="#fff" stroke="#46a84f" stroke-width="0.95"/>
<path d="M357.61 60.74L359.91 63.04L357.61 65.34L355.31 63.04Z" fill="#fff" stroke="#46a84f" stroke-width="0.95"/>
<path d="M367.42 68.61L369.72 70.91L367.42 73.21L365.12 70.91Z" fill="#fff" stroke="#46a84f" stroke-width="0.95"/>
<path d="M380.51 86.17L382.81 88.47L380.51 90.77L378.21 88.47Z" fill="#fff" stroke="#46a84f" stroke-width="0.95"/>
<path d="M390.33 93.52L392.63 95.81L390.33 98.11L388.03 95.81Z" fill="#fff" stroke="#46a84f" stroke-width="0.95"/>
<path d="M403.42 100.07L405.72 102.37L403.42 104.67L401.12 102.37Z" fill="#fff" stroke="#46a84f" stroke-width="0.95"/>
<path d="M426.32 109.9L428.62 112.2L426.32 114.5L424.02 112.2Z" fill="#fff" stroke="#46a84f" stroke-width="0.95"/>
<path d="M449.22 120.52L451.52 122.82L449.22 125.12L446.92 122.82Z" fill="#fff" stroke="#46a84f" stroke-width="0.95"/>
<path d="M459.04 128.13L461.34 130.43L459.04 132.73L456.74 130.43Z" fill="#fff" stroke="#46a84f" stroke-width="0.95"/>
<path d="M472.13 135.34L474.43 137.64L472.13 139.94L469.83 137.64Z" fill="#fff" stroke="#46a84f" stroke-width="0.95"/>
<path d="M495.03 136.38L497.33 138.68L495.03 140.98L492.73 138.68Z" fill="#fff" stroke="#46a84f" stroke-width="0.95"/>
<path d="M508.12 139.4L510.42 141.7L508.12 144L505.82 141.7Z" fill="#fff" stroke="#46a84f" stroke-width="0.95"/>
<polyline points="311.8,10.6 318.34,13.88 324.89,18.47 334.7,30.92 344.52,48.62 357.61,60.42 367.42,66.97 380.51,79.43 390.33,87.16 426.32,112.2 449.22,120.33 459.04,124.66 472.13,131.21 495.03,138.68 508.12,141.7" fill="none" stroke="#55275f" stroke-width="1.05"/>
<path d="M309.2 8.7L314.4 8.7L311.8 13Z" fill="#fff" stroke="#55275f" stroke-width="0.95"/>
<path d="M315.74 11.98L320.94 11.98L318.34 16.28Z" fill="#fff" stroke="#55275f" stroke-width="0.95"/>
<path d="M322.29 16.57L327.49 16.57L324.89 20.87Z" fill="#fff" stroke="#55275f" stroke-width="0.95"/>
<path d="M332.1 29.02L337.3 29.02L334.7 33.32Z" fill="#fff" stroke="#55275f" stroke-width="0.95"/>
<path d="M341.92 46.72L347.12 46.72L344.52 51.02Z" fill="#fff" stroke="#55275f" stroke-width="0.95"/>
<path d="M355.01 58.52L360.21 58.52L357.61 62.82Z" fill="#fff" stroke="#55275f" stroke-width="0.95"/>
<path d="M364.82 65.07L370.02 65.07L367.42 69.37Z" fill="#fff" stroke="#55275f" stroke-width="0.95"/>
<path d="M377.91 77.53L383.11 77.53L380.51 81.83Z" fill="#fff" stroke="#55275f" stroke-width="0.95"/>
<path d="M387.73 85.26L392.93 85.26L390.33 89.56Z" fill="#fff" stroke="#55275f" stroke-width="0.95"/>
<path d="M423.72 110.3L428.92 110.3L426.32 114.6Z" fill="#fff" stroke="#55275f" stroke-width="0.95"/>
<path d="M446.62 118.43L451.82 118.43L449.22 122.73Z" fill="#fff" stroke="#55275f" stroke-width="0.95"/>
<path d="M456.44 122.76L461.64 122.76L459.04 127.06Z" fill="#fff" stroke="#55275f" stroke-width="0.95"/>
<path d="M469.53 129.31L474.73 129.31L472.13 133.61Z" fill="#fff" stroke="#55275f" stroke-width="0.95"/>
<path d="M492.43 136.78L497.63 136.78L495.03 141.08Z" fill="#fff" stroke="#55275f" stroke-width="0.95"/>
<path d="M505.52 139.8L510.72 139.8L508.12 144.1Z" fill="#fff" stroke="#55275f" stroke-width="0.95"/>
<line x1="419.5" y1="25.8" x2="432.8" y2="25.8" stroke="#55275f" stroke-width="0.9"/>
<path d="M423.6 23.9L428.8 23.9L426.2 28.2Z" fill="#fff" stroke="#55275f" stroke-width="0.95"/>
<text x="436" y="28.2" font-size="7.2" textLength="59" lengthAdjust="spacingAndGlyphs"><tspan font-style="italic">Hbb</tspan><tspan font-size="5.4" dy="-3">+/+</tspan><tspan dy="3"> diff (20.1d)</tspan></text>
<line x1="419.5" y1="37.3" x2="432.8" y2="37.3" stroke="#46a84f" stroke-width="0.9"/>
<path d="M426.2 35L428.5 37.3L426.2 39.6L423.9 37.3Z" fill="#fff" stroke="#46a84f" stroke-width="0.95"/>
<text x="436" y="39.7" font-size="7.2" textLength="61.7" lengthAdjust="spacingAndGlyphs"><tspan font-style="italic">Hbb</tspan><tspan font-size="5.4" dy="-3">+/+</tspan><tspan dy="3"> sing (19.8d)</tspan></text>
<line x1="419.5" y1="48.6" x2="432.8" y2="48.6" stroke="#c8283a" stroke-width="0.9"/>
<circle cx="426.2" cy="48.6" r="2.5" fill="#fff" stroke="#c8283a" stroke-width="0.95"/>
<text x="436" y="51" font-size="7.2" textLength="58.3" lengthAdjust="spacingAndGlyphs"><tspan font-style="italic">Hbb</tspan><tspan font-size="5.4" dy="-3">th3/+</tspan><tspan dy="3"> diff (9.9d)</tspan></text>
<line x1="419.5" y1="60.3" x2="432.8" y2="60.3" stroke="#2a5a94" stroke-width="0.9"/>
<path d="M423.6 62.2L428.8 62.2L426.2 57.9Z" fill="#fff" stroke="#2a5a94" stroke-width="0.95"/>
<text x="436" y="62.7" font-size="7.2" textLength="61.7" lengthAdjust="spacingAndGlyphs"><tspan font-style="italic">Hbb</tspan><tspan font-size="5.4" dy="-3">th3/+</tspan><tspan dy="3"> sing (5.9d)</tspan></text>
<text x="380" y="45" font-size="7.5" text-anchor="start">d2-d14</text>
<path d="M415.4 48.3H408.6V60.6H415.4" fill="none" stroke="#222" stroke-width="1"/>
<text x="404" y="57.5" font-size="6" text-anchor="middle">*</text>
<defs><linearGradient id="pg" x1="0" y1="0" x2="1" y2="1"><stop offset="0" stop-color="#e4e4e7"/><stop offset="0.3" stop-color="#eeeef0"/><stop offset="0.5" stop-color="#e2e3e6"/><stop offset="0.7" stop-color="#ececee"/><stop offset="1" stop-color="#e3e4e7"/></linearGradient><radialGradient id="sg" cx="0.45" cy="0.35" r="0.7"><stop offset="0" stop-color="#66222e"/><stop offset="1" stop-color="#3e0e17"/></radialGradient></defs>
<rect x="311.2" y="191.5" width="52.3" height="136" fill="url(#pg)"/>
<path d="M323.7 205.8C337.6 205.2 341.6 204.4 349.3 204.2A7.5 7.5 0 0 1 349.3 219.2C341.6 219.5 337.6 216.9 323.7 216.4A5.3 5.3 0 0 1 323.7 205.8Z" fill="url(#sg)" stroke="#c9a9ad" stroke-width="0.5"/>
<path d="M321.85 229.3C336.05 228.7 340.05 226 348.9 225.8A7 7 0 0 1 348.9 239.8C340.05 240.1 336.05 241.1 321.85 240.6A5.65 5.65 0 0 1 321.85 229.3Z" fill="url(#sg)" stroke="#c9a9ad" stroke-width="0.5"/>
<path d="M324.4 268.2C338.45 267.6 342.45 265.2 351.2 265A5.1 5.1 0 0 1 351.2 275.2C342.45 275.5 338.45 276.3 324.4 275.8A3.8 3.8 0 0 1 324.4 268.2Z" fill="url(#sg)" stroke="#c9a9ad" stroke-width="0.5"/>
<path d="M320.85 286.5C336.4 285.9 340.4 284.6 351.45 284.4A4.85 4.85 0 0 1 351.45 294.1C340.4 294.4 336.4 295.7 320.85 295.2A4.35 4.35 0 0 1 320.85 286.5Z" fill="url(#sg)" stroke="#c9a9ad" stroke-width="0.5"/>
<path d="M323.85 304.7C337.85 304.1 341.85 304.2 350.8 304A5 5 0 0 1 350.8 314C341.85 314.3 337.85 313.1 323.85 312.6A3.95 3.95 0 0 1 323.85 304.7Z" fill="url(#sg)" stroke="#c9a9ad" stroke-width="0.5"/>
<line x1="346.1" y1="323.9" x2="362.8" y2="323.9" stroke="#000" stroke-width="1.7"/>
<line x1="308" y1="202.2" x2="308" y2="241.6" stroke="#2a2a2a" stroke-width="1.3"/>
<line x1="308" y1="265" x2="308" y2="318" stroke="#2a2a2a" stroke-width="1.3"/>
<text x="288.2" y="219.9" font-size="7.6" text-anchor="middle"><tspan font-style="italic">Hbb</tspan><tspan font-size="5.8" dy="-2.5">th3/+</tspan></text>
<text x="288.3" y="228.9" font-size="7.5" text-anchor="middle">sing</text>
<text x="288.2" y="289.5" font-size="7.6" text-anchor="middle"><tspan font-style="italic">Hbb</tspan><tspan font-size="5.8" dy="-2.5">th3/+</tspan></text>
<text x="288.3" y="298.8" font-size="7.5" text-anchor="middle">diff</text>
<line x1="46.2" y1="377.9" x2="46.2" y2="482" stroke="#1a1a1a" stroke-width="1.2"/>
<line x1="43.4" y1="481.5" x2="46.2" y2="481.5" stroke="#1a1a1a" stroke-width="1.2"/>
<text x="41.1" y="484.4" font-size="8.3" text-anchor="end">0</text>
<line x1="43.4" y1="461.3" x2="46.2" y2="461.3" stroke="#1a1a1a" stroke-width="1.2"/>
<text x="41.1" y="464.2" font-size="8.3" text-anchor="end">10</text>
<line x1="43.4" y1="441.1" x2="46.2" y2="441.1" stroke="#1a1a1a" stroke-width="1.2"/>
<text x="41.1" y="444" font-size="8.3" text-anchor="end">20</text>
<line x1="43.4" y1="420.9" x2="46.2" y2="420.9" stroke="#1a1a1a" stroke-width="1.2"/>
<text x="41.1" y="423.8" font-size="8.3" text-anchor="end">30</text>
<line x1="43.4" y1="400.7" x2="46.2" y2="400.7" stroke="#1a1a1a" stroke-width="1.2"/>
<text x="41.1" y="403.6" font-size="8.3" text-anchor="end">40</text>
<line x1="43.4" y1="380.5" x2="46.2" y2="380.5" stroke="#1a1a1a" stroke-width="1.2"/>
<text x="41.1" y="383.4" font-size="8.3" text-anchor="end">50</text>
<rect x="58.75" y="397.5" width="21.25" height="84" fill="#c80828"/>
<rect x="92.9" y="409.75" width="20.85" height="71.75" fill="#0f4a82"/>
<rect x="126.25" y="409.4" width="20.35" height="72.1" fill="#c80828"/>
<rect x="160" y="416.9" width="21" height="64.6" fill="#0f4a82"/>
<rect x="193.75" y="449" width="21" height="32.5" fill="#c80828"/>
<rect x="227.5" y="433.1" width="21.25" height="48.4" fill="#0f4a82"/>
<line x1="45.7" y1="481.5" x2="261" y2="481.5" stroke="#1a1a1a" stroke-width="1.1"/>
<line x1="69.38" y1="481.5" x2="69.38" y2="483.7" stroke="#1a1a1a" stroke-width="1.1"/>
<line x1="103.33" y1="481.5" x2="103.33" y2="483.7" stroke="#1a1a1a" stroke-width="1.1"/>
<line x1="136.43" y1="481.5" x2="136.43" y2="483.7" stroke="#1a1a1a" stroke-width="1.1"/>
<line x1="170.5" y1="481.5" x2="170.5" y2="483.7" stroke="#1a1a1a" stroke-width="1.1"/>
<line x1="204.25" y1="481.5" x2="204.25" y2="483.7" stroke="#1a1a1a" stroke-width="1.1"/>
<line x1="238.12" y1="481.5" x2="238.12" y2="483.7" stroke="#1a1a1a" stroke-width="1.1"/>
<line x1="69.38" y1="390.6" x2="69.38" y2="404.4" stroke="#1a1a1a" stroke-width="0.9"/>
<line x1="67.17" y1="390.6" x2="71.58" y2="390.6" stroke="#1a1a1a" stroke-width="0.9"/>
<line x1="67.17" y1="404.4" x2="71.58" y2="404.4" stroke="#1a1a1a" stroke-width="0.9"/>
<line x1="103.33" y1="400" x2="103.33" y2="419.5" stroke="#1a1a1a" stroke-width="0.9"/>
<line x1="101.12" y1="400" x2="105.53" y2="400" stroke="#1a1a1a" stroke-width="0.9"/>
<line x1="101.12" y1="419.5" x2="105.53" y2="419.5" stroke="#1a1a1a" stroke-width="0.9"/>
<line x1="136.43" y1="405.5" x2="136.43" y2="413.3" stroke="#1a1a1a" stroke-width="0.9"/>
<line x1="134.23" y1="405.5" x2="138.62" y2="405.5" stroke="#1a1a1a" stroke-width="0.9"/>
<line x1="134.23" y1="413.3" x2="138.62" y2="413.3" stroke="#1a1a1a" stroke-width="0.9"/>
<line x1="170.5" y1="409.4" x2="170.5" y2="424.4" stroke="#1a1a1a" stroke-width="0.9"/>
<line x1="168.3" y1="409.4" x2="172.7" y2="409.4" stroke="#1a1a1a" stroke-width="0.9"/>
<line x1="168.3" y1="424.4" x2="172.7" y2="424.4" stroke="#1a1a1a" stroke-width="0.9"/>
<line x1="204.25" y1="440.25" x2="204.25" y2="457.75" stroke="#1a1a1a" stroke-width="0.9"/>
<line x1="202.05" y1="440.25" x2="206.45" y2="440.25" stroke="#1a1a1a" stroke-width="0.9"/>
<line x1="202.05" y1="457.75" x2="206.45" y2="457.75" stroke="#1a1a1a" stroke-width="0.9"/>
<line x1="238.12" y1="423.1" x2="238.12" y2="443.1" stroke="#1a1a1a" stroke-width="0.9"/>
<line x1="235.93" y1="423.1" x2="240.32" y2="423.1" stroke="#1a1a1a" stroke-width="0.9"/>
<line x1="235.93" y1="443.1" x2="240.32" y2="443.1" stroke="#1a1a1a" stroke-width="0.9"/>
<path d="M69.4 385.05L71.6 387.25L69.4 389.45L67.2 387.25Z" fill="#fff" stroke="#111" stroke-width="0.9"/>
<path d="M60 394.7L62.2 396.9L60 399.1L57.8 396.9Z" fill="#fff" stroke="#111" stroke-width="0.9"/>
<path d="M69.4 395.9L71.6 398.1L69.4 400.3L67.2 398.1Z" fill="#fff" stroke="#111" stroke-width="0.9"/>
<path d="M78.5 395.3L80.7 397.5L78.5 399.7L76.3 397.5Z" fill="#fff" stroke="#111" stroke-width="0.9"/>
<path d="M69.4 401.8L71.6 404L69.4 406.2L67.2 404Z" fill="#fff" stroke="#111" stroke-width="0.9"/>
<path d="M102.9 395.05L105.1 397.25L102.9 399.45L100.7 397.25Z" fill="#fff" stroke="#111" stroke-width="0.9"/>
<path d="M107.25 402.2L109.45 404.4L107.25 406.6L105.05 404.4Z" fill="#fff" stroke="#111" stroke-width="0.9"/>
<path d="M98.5 405.55L100.7 407.75L98.5 409.95L96.3 407.75Z" fill="#fff" stroke="#111" stroke-width="0.9"/>
<path d="M102.9 412.55L105.1 414.75L102.9 416.95L100.7 414.75Z" fill="#fff" stroke="#111" stroke-width="0.9"/>
<path d="M102.9 417.55L105.1 419.75L102.9 421.95L100.7 419.75Z" fill="#fff" stroke="#111" stroke-width="0.9"/>
<path d="M127.5 405.05L129.7 407.25L127.5 409.45L125.3 407.25Z" fill="#fff" stroke="#111" stroke-width="0.9"/>
<path d="M133.75 405.05L135.95 407.25L133.75 409.45L131.55 407.25Z" fill="#fff" stroke="#111" stroke-width="0.9"/>
<path d="M136.9 404.7L139.1 406.9L136.9 409.1L134.7 406.9Z" fill="#fff" stroke="#111" stroke-width="0.9"/>
<path d="M133.75 409.7L135.95 411.9L133.75 414.1L131.55 411.9Z" fill="#fff" stroke="#111" stroke-width="0.9"/>
<path d="M139.4 409.05L141.6 411.25L139.4 413.45L137.2 411.25Z" fill="#fff" stroke="#111" stroke-width="0.9"/>
<path d="M145.6 405.05L147.8 407.25L145.6 409.45L143.4 407.25Z" fill="#fff" stroke="#111" stroke-width="0.9"/>
<path d="M170.25 403.4L172.45 405.6L170.25 407.8L168.05 405.6Z" fill="#fff" stroke="#111" stroke-width="0.9"/>
<path d="M170.25 411.3L172.45 413.5L170.25 415.7L168.05 413.5Z" fill="#fff" stroke="#111" stroke-width="0.9"/>
<path d="M166.25 415.9L168.45 418.1L166.25 420.3L164.05 418.1Z" fill="#fff" stroke="#111" stroke-width="0.9"/>
<path d="M175 415.9L177.2 418.1L175 420.3L172.8 418.1Z" fill="#fff" stroke="#111" stroke-width="0.9"/>
<path d="M170.25 424.7L172.45 426.9L170.25 429.1L168.05 426.9Z" fill="#fff" stroke="#111" stroke-width="0.9"/>
<path d="M204.4 432.8L206.6 435L204.4 437.2L202.2 435Z" fill="#fff" stroke="#111" stroke-width="0.9"/>
<path d="M200 446.8L202.2 449L200 451.2L197.8 449Z" fill="#fff" stroke="#111" stroke-width="0.9"/>
<path d="M208.75 445.3L210.95 447.5L208.75 449.7L206.55 447.5Z" fill="#fff" stroke="#111" stroke-width="0.9"/>
<path d="M200 453.4L202.2 455.6L200 457.8L197.8 455.6Z" fill="#fff" stroke="#111" stroke-width="0.9"/>
<path d="M208.75 452.55L210.95 454.75L208.75 456.95L206.55 454.75Z" fill="#fff" stroke="#111" stroke-width="0.9"/>
<path d="M238.1 414.3L240.3 416.5L238.1 418.7L235.9 416.5Z" fill="#fff" stroke="#111" stroke-width="0.9"/>
<path d="M229 431.3L231.2 433.5L229 435.7L226.8 433.5Z" fill="#fff" stroke="#111" stroke-width="0.9"/>
<path d="M238.1 433.4L240.3 435.6L238.1 437.8L235.9 435.6Z" fill="#fff" stroke="#111" stroke-width="0.9"/>
<path d="M247.25 433.4L249.45 435.6L247.25 437.8L245.05 435.6Z" fill="#fff" stroke="#111" stroke-width="0.9"/>
<path d="M229 436.55L231.2 438.75L229 440.95L226.8 438.75Z" fill="#fff" stroke="#111" stroke-width="0.9"/>
<line x1="70" y1="383" x2="102.5" y2="383" stroke="#333" stroke-width="1.0"/>
<text x="86.25" y="382.2" font-size="7.6" text-anchor="middle" stroke="#1a1a1a" stroke-width="0.2">*</text>
<line x1="137.4" y1="402" x2="170" y2="402" stroke="#333" stroke-width="1.0"/>
<text x="153.7" y="399.7" font-size="7.6" text-anchor="middle">ns</text>
<line x1="204.4" y1="411.2" x2="237.6" y2="411.2" stroke="#333" stroke-width="1.0"/>
<text x="221" y="410.4" font-size="7.6" text-anchor="middle" stroke="#1a1a1a" stroke-width="0.2">*</text>
<text x="69.38" y="495" font-size="7.5" text-anchor="middle">sing</text>
<text x="103.33" y="495" font-size="7.5" text-anchor="middle">diff</text>
<text x="136.43" y="495" font-size="7.5" text-anchor="middle">sing</text>
<text x="170.5" y="495" font-size="7.5" text-anchor="middle">diff</text>
<text x="204.25" y="495" font-size="7.5" text-anchor="middle">sing</text>
<text x="238.12" y="495" font-size="7.5" text-anchor="middle">diff</text>
<line x1="56" y1="499" x2="113.75" y2="499" stroke="#1a1a1a" stroke-width="0.9"/>
<text x="84.88" y="508.5" font-size="7.5" text-anchor="middle">Ery.A <tspan font-style="italic">Hbb</tspan><tspan font-size="5.6" dy="-3">th3/+</tspan></text>
<line x1="124.4" y1="499" x2="180.7" y2="499" stroke="#1a1a1a" stroke-width="0.9"/>
<text x="152.55" y="508.5" font-size="7.5" text-anchor="middle">Ery.B <tspan font-style="italic">Hbb</tspan><tspan font-size="5.6" dy="-3">th3/+</tspan></text>
<line x1="190.2" y1="499" x2="248.5" y2="499" stroke="#1a1a1a" stroke-width="0.9"/>
<text x="219.35" y="508.5" font-size="7.5" text-anchor="middle">Ery.C <tspan font-style="italic">Hbb</tspan><tspan font-size="5.6" dy="-3">th3/+</tspan></text>
<text x="154" y="373.2" font-size="9.6" text-anchor="middle" textLength="27.6" lengthAdjust="spacingAndGlyphs">Spleen</text>
<text transform="translate(26.8 430.85) rotate(-90)" x="0" y="0" font-size="9" stroke="#1a1a1a" stroke-width="0.3" text-anchor="middle" textLength="50.4" lengthAdjust="spacingAndGlyphs">Ter119<tspan font-size="6" dy="-3">+</tspan><tspan dy="3"> cells (%)</tspan></text>
<line x1="46.2" y1="539.14" x2="46.2" y2="642.5" stroke="#1a1a1a" stroke-width="1.2"/>
<line x1="43.4" y1="642" x2="46.2" y2="642" stroke="#1a1a1a" stroke-width="1.2"/>
<text x="41.1" y="644.9" font-size="8.3" text-anchor="end">0</text>
<line x1="43.4" y1="625.29" x2="46.2" y2="625.29" stroke="#1a1a1a" stroke-width="1.2"/>
<text x="41.1" y="628.19" font-size="8.3" text-anchor="end">10</text>
<line x1="43.4" y1="608.58" x2="46.2" y2="608.58" stroke="#1a1a1a" stroke-width="1.2"/>
<text x="41.1" y="611.49" font-size="8.3" text-anchor="end">20</text>
<line x1="43.4" y1="591.87" x2="46.2" y2="591.87" stroke="#1a1a1a" stroke-width="1.2"/>
<text x="41.1" y="594.77" font-size="8.3" text-anchor="end">30</text>
<line x1="43.4" y1="575.16" x2="46.2" y2="575.16" stroke="#1a1a1a" stroke-width="1.2"/>
<text x="41.1" y="578.06" font-size="8.3" text-anchor="end">40</text>
<line x1="43.4" y1="558.45" x2="46.2" y2="558.45" stroke="#1a1a1a" stroke-width="1.2"/>
<text x="41.1" y="561.36" font-size="8.3" text-anchor="end">50</text>
<line x1="43.4" y1="541.74" x2="46.2" y2="541.74" stroke="#1a1a1a" stroke-width="1.2"/>
<text x="41.1" y="544.64" font-size="8.3" text-anchor="end">60</text>
<rect x="58.75" y="560" width="21" height="82" fill="#c80828"/>
<rect x="92.5" y="570.25" width="21.25" height="71.75" fill="#0f4a82"/>
<rect x="126" y="574.4" width="21.25" height="67.6" fill="#c80828"/>
<rect x="160.25" y="575.6" width="21" height="66.4" fill="#0f4a82"/>
<rect x="193.75" y="631.25" width="21" height="10.75" fill="#c80828"/>
<rect x="228.1" y="622.75" width="20.65" height="19.25" fill="#0f4a82"/>
<line x1="45.7" y1="642" x2="261" y2="642" stroke="#1a1a1a" stroke-width="1.1"/>
<line x1="69.25" y1="642" x2="69.25" y2="644.2" stroke="#1a1a1a" stroke-width="1.1"/>
<line x1="103.12" y1="642" x2="103.12" y2="644.2" stroke="#1a1a1a" stroke-width="1.1"/>
<line x1="136.62" y1="642" x2="136.62" y2="644.2" stroke="#1a1a1a" stroke-width="1.1"/>
<line x1="170.75" y1="642" x2="170.75" y2="644.2" stroke="#1a1a1a" stroke-width="1.1"/>
<line x1="204.25" y1="642" x2="204.25" y2="644.2" stroke="#1a1a1a" stroke-width="1.1"/>
<line x1="238.43" y1="642" x2="238.43" y2="644.2" stroke="#1a1a1a" stroke-width="1.1"/>
<line x1="69.25" y1="553.1" x2="69.25" y2="566.9" stroke="#1a1a1a" stroke-width="0.9"/>
<line x1="67.05" y1="553.1" x2="71.45" y2="553.1" stroke="#1a1a1a" stroke-width="0.9"/>
<line x1="67.05" y1="566.9" x2="71.45" y2="566.9" stroke="#1a1a1a" stroke-width="0.9"/>
<line x1="103.12" y1="566" x2="103.12" y2="574.5" stroke="#1a1a1a" stroke-width="0.9"/>
<line x1="100.92" y1="566" x2="105.33" y2="566" stroke="#1a1a1a" stroke-width="0.9"/>
<line x1="100.92" y1="574.5" x2="105.33" y2="574.5" stroke="#1a1a1a" stroke-width="0.9"/>
<line x1="136.62" y1="568.5" x2="136.62" y2="580.3" stroke="#1a1a1a" stroke-width="0.9"/>
<line x1="134.43" y1="568.5" x2="138.82" y2="568.5" stroke="#1a1a1a" stroke-width="0.9"/>
<line x1="134.43" y1="580.3" x2="138.82" y2="580.3" stroke="#1a1a1a" stroke-width="0.9"/>
<line x1="170.75" y1="573" x2="170.75" y2="578.2" stroke="#1a1a1a" stroke-width="0.9"/>
<line x1="168.55" y1="573" x2="172.95" y2="573" stroke="#1a1a1a" stroke-width="0.9"/>
<line x1="168.55" y1="578.2" x2="172.95" y2="578.2" stroke="#1a1a1a" stroke-width="0.9"/>
<line x1="204.25" y1="628" x2="204.25" y2="634.5" stroke="#1a1a1a" stroke-width="0.9"/>
<line x1="202.05" y1="628" x2="206.45" y2="628" stroke="#1a1a1a" stroke-width="0.9"/>
<line x1="202.05" y1="634.5" x2="206.45" y2="634.5" stroke="#1a1a1a" stroke-width="0.9"/>
<line x1="238.43" y1="617.5" x2="238.43" y2="628" stroke="#1a1a1a" stroke-width="0.9"/>
<line x1="236.23" y1="617.5" x2="240.62" y2="617.5" stroke="#1a1a1a" stroke-width="0.9"/>
<line x1="236.23" y1="628" x2="240.62" y2="628" stroke="#1a1a1a" stroke-width="0.9"/>
<path d="M60.25 549.7L62.45 551.9L60.25 554.1L58.05 551.9Z" fill="#fff" stroke="#111" stroke-width="0.9"/>
<path d="M69.4 552.8L71.6 555L69.4 557.2L67.2 555Z" fill="#fff" stroke="#111" stroke-width="0.9"/>
<path d="M78.5 552.8L80.7 555L78.5 557.2L76.3 555Z" fill="#fff" stroke="#111" stroke-width="0.9"/>
<path d="M69.4 557.2L71.6 559.4L69.4 561.6L67.2 559.4Z" fill="#fff" stroke="#111" stroke-width="0.9"/>
<path d="M65 565.05L67.2 567.25L65 569.45L62.8 567.25Z" fill="#fff" stroke="#111" stroke-width="0.9"/>
<path d="M74 563.2L76.2 565.4L74 567.6L71.8 565.4Z" fill="#fff" stroke="#111" stroke-width="0.9"/>
<path d="M94 560.55L96.2 562.75L94 564.95L91.8 562.75Z" fill="#fff" stroke="#111" stroke-width="0.9"/>
<path d="M103.1 561.55L105.3 563.75L103.1 565.95L100.9 563.75Z" fill="#fff" stroke="#111" stroke-width="0.9"/>
<path d="M112.25 560.55L114.45 562.75L112.25 564.95L110.05 562.75Z" fill="#fff" stroke="#111" stroke-width="0.9"/>
<path d="M94 573.8L96.2 576L94 578.2L91.8 576Z" fill="#fff" stroke="#111" stroke-width="0.9"/>
<path d="M103.1 571.55L105.3 573.75L103.1 575.95L100.9 573.75Z" fill="#fff" stroke="#111" stroke-width="0.9"/>
<path d="M112.25 573.05L114.45 575.25L112.25 577.45L110.05 575.25Z" fill="#fff" stroke="#111" stroke-width="0.9"/>
<path d="M127.75 563.05L129.95 565.25L127.75 567.45L125.55 565.25Z" fill="#fff" stroke="#111" stroke-width="0.9"/>
<path d="M136.9 566.3L139.1 568.5L136.9 570.7L134.7 568.5Z" fill="#fff" stroke="#111" stroke-width="0.9"/>
<path d="M127.75 572.2L129.95 574.4L127.75 576.6L125.55 574.4Z" fill="#fff" stroke="#111" stroke-width="0.9"/>
<path d="M127.75 577.55L129.95 579.75L127.75 581.95L125.55 579.75Z" fill="#fff" stroke="#111" stroke-width="0.9"/>
<path d="M136.9 574.3L139.1 576.5L136.9 578.7L134.7 576.5Z" fill="#fff" stroke="#111" stroke-width="0.9"/>
<path d="M146 574.7L148.2 576.9L146 579.1L143.8 576.9Z" fill="#fff" stroke="#111" stroke-width="0.9"/>
<path d="M161.25 571.3L163.45 573.5L161.25 575.7L159.05 573.5Z" fill="#fff" stroke="#111" stroke-width="0.9"/>
<path d="M167.5 571.55L169.7 573.75L167.5 575.95L165.3 573.75Z" fill="#fff" stroke="#111" stroke-width="0.9"/>
<path d="M170.6 570.9L172.8 573.1L170.6 575.3L168.4 573.1Z" fill="#fff" stroke="#111" stroke-width="0.9"/>
<path d="M173.5 569.3L175.7 571.5L173.5 573.7L171.3 571.5Z" fill="#fff" stroke="#111" stroke-width="0.9"/>
<path d="M179.75 571.55L181.95 573.75L179.75 575.95L177.55 573.75Z" fill="#fff" stroke="#111" stroke-width="0.9"/>
<path d="M161.25 575.55L163.45 577.75L161.25 579.95L159.05 577.75Z" fill="#fff" stroke="#111" stroke-width="0.9"/>
<path d="M173.5 575.55L175.7 577.75L173.5 579.95L171.3 577.75Z" fill="#fff" stroke="#111" stroke-width="0.9"/>
<path d="M195.25 627.2L197.45 629.4L195.25 631.6L193.05 629.4Z" fill="#fff" stroke="#111" stroke-width="0.9"/>
<path d="M204.4 624.05L206.6 626.25L204.4 628.45L202.2 626.25Z" fill="#fff" stroke="#111" stroke-width="0.9"/>
<path d="M213.5 624.3L215.7 626.5L213.5 628.7L211.3 626.5Z" fill="#fff" stroke="#111" stroke-width="0.9"/>
<path d="M195 632.55L197.2 634.75L195 636.95L192.8 634.75Z" fill="#fff" stroke="#111" stroke-width="0.9"/>
<path d="M204.4 630.55L206.6 632.75L204.4 634.95L202.2 632.75Z" fill="#fff" stroke="#111" stroke-width="0.9"/>
<path d="M213.5 630.55L215.7 632.75L213.5 634.95L211.3 632.75Z" fill="#fff" stroke="#111" stroke-width="0.9"/>
<path d="M233.75 615.3L235.95 617.5L233.75 619.7L231.55 617.5Z" fill="#fff" stroke="#111" stroke-width="0.9"/>
<path d="M242.5 612.8L244.7 615L242.5 617.2L240.3 615Z" fill="#fff" stroke="#111" stroke-width="0.9"/>
<path d="M233.75 620.3L235.95 622.5L233.75 624.7L231.55 622.5Z" fill="#fff" stroke="#111" stroke-width="0.9"/>
<path d="M242.5 619.7L244.7 621.9L242.5 624.1L240.3 621.9Z" fill="#fff" stroke="#111" stroke-width="0.9"/>
<path d="M233.75 625.9L235.95 628.1L233.75 630.3L231.55 628.1Z" fill="#fff" stroke="#111" stroke-width="0.9"/>
<path d="M242.5 624.05L244.7 626.25L242.5 628.45L240.3 626.25Z" fill="#fff" stroke="#111" stroke-width="0.9"/>
<line x1="70.25" y1="550.4" x2="103.1" y2="550.4" stroke="#333" stroke-width="1.0"/>
<text x="86.67" y="549.6" font-size="7.6" text-anchor="middle" stroke="#1a1a1a" stroke-width="0.2">*</text>
<line x1="136.9" y1="563.5" x2="170" y2="563.5" stroke="#333" stroke-width="1.0"/>
<text x="153.45" y="561.2" font-size="7.6" text-anchor="middle">ns</text>
<line x1="204.75" y1="612.25" x2="238.1" y2="612.25" stroke="#333" stroke-width="1.0"/>
<text x="221.43" y="611.45" font-size="7.6" text-anchor="middle" stroke="#1a1a1a" stroke-width="0.2">**</text>
<text x="69.25" y="655" font-size="7.5" text-anchor="middle">sing</text>
<text x="103.12" y="655" font-size="7.5" text-anchor="middle">diff</text>
<text x="136.62" y="655" font-size="7.5" text-anchor="middle">sing</text>
<text x="170.75" y="655" font-size="7.5" text-anchor="middle">diff</text>
<text x="204.25" y="655" font-size="7.5" text-anchor="middle">sing</text>
<text x="238.43" y="655" font-size="7.5" text-anchor="middle">diff</text>
<line x1="56" y1="659.5" x2="113.75" y2="659.5" stroke="#1a1a1a" stroke-width="0.9"/>
<text x="84.88" y="670" font-size="7.5" text-anchor="middle">Ery.A <tspan font-style="italic">Hbb</tspan><tspan font-size="5.6" dy="-3">th3/+</tspan></text>
<line x1="124.4" y1="659.5" x2="180.7" y2="659.5" stroke="#1a1a1a" stroke-width="0.9"/>
<text x="152.55" y="670" font-size="7.5" text-anchor="middle">Ery.B <tspan font-style="italic">Hbb</tspan><tspan font-size="5.6" dy="-3">th3/+</tspan></text>
<line x1="190.2" y1="659.5" x2="248.5" y2="659.5" stroke="#1a1a1a" stroke-width="0.9"/>
<text x="219.35" y="670" font-size="7.5" text-anchor="middle">Ery.C <tspan font-style="italic">Hbb</tspan><tspan font-size="5.6" dy="-3">th3/+</tspan></text>
<text x="154" y="533.8" font-size="9.6" text-anchor="middle">BM</text>
<text transform="translate(26.8 590.8) rotate(-90)" x="0" y="0" font-size="9" stroke="#1a1a1a" stroke-width="0.3" text-anchor="middle" textLength="50.4" lengthAdjust="spacingAndGlyphs">Ter119<tspan font-size="6" dy="-3">+</tspan><tspan dy="3"> cells (%)</tspan></text>
<line x1="321.9" y1="378.42" x2="321.9" y2="482.2" stroke="#1a1a1a" stroke-width="1.2"/>
<line x1="319.1" y1="481.7" x2="321.9" y2="481.7" stroke="#1a1a1a" stroke-width="1.2"/>
<text x="316.8" y="484.6" font-size="8.3" text-anchor="end">0</text>
<line x1="319.1" y1="448.14" x2="321.9" y2="448.14" stroke="#1a1a1a" stroke-width="1.2"/>
<text x="316.8" y="451.04" font-size="8.3" text-anchor="end">2</text>
<line x1="319.1" y1="414.58" x2="321.9" y2="414.58" stroke="#1a1a1a" stroke-width="1.2"/>
<text x="316.8" y="417.48" font-size="8.3" text-anchor="end">4</text>
<line x1="319.1" y1="381.02" x2="321.9" y2="381.02" stroke="#1a1a1a" stroke-width="1.2"/>
<text x="316.8" y="383.92" font-size="8.3" text-anchor="end">6</text>
<rect x="327.9" y="418.1" width="19.6" height="63.6" fill="#c80828"/>
<rect x="359.6" y="434.8" width="19.6" height="46.9" fill="#0f4a82"/>
<rect x="390.9" y="465" width="20.2" height="16.7" fill="#3aa63c"/>
<rect x="422.6" y="465" width="20.2" height="16.7" fill="#5e1f6e"/>
<line x1="321.4" y1="481.7" x2="449.5" y2="481.7" stroke="#1a1a1a" stroke-width="1.1"/>
<line x1="337.7" y1="481.7" x2="337.7" y2="483.9" stroke="#1a1a1a" stroke-width="1.1"/>
<line x1="369.4" y1="481.7" x2="369.4" y2="483.9" stroke="#1a1a1a" stroke-width="1.1"/>
<line x1="401" y1="481.7" x2="401" y2="483.9" stroke="#1a1a1a" stroke-width="1.1"/>
<line x1="432.7" y1="481.7" x2="432.7" y2="483.9" stroke="#1a1a1a" stroke-width="1.1"/>
<line x1="337.7" y1="408.6" x2="337.7" y2="427.6" stroke="#1a1a1a" stroke-width="0.9"/>
<line x1="335.5" y1="408.6" x2="339.9" y2="408.6" stroke="#1a1a1a" stroke-width="0.9"/>
<line x1="335.5" y1="427.6" x2="339.9" y2="427.6" stroke="#1a1a1a" stroke-width="0.9"/>
<line x1="369.4" y1="428.5" x2="369.4" y2="441.1" stroke="#1a1a1a" stroke-width="0.9"/>
<line x1="367.2" y1="428.5" x2="371.6" y2="428.5" stroke="#1a1a1a" stroke-width="0.9"/>
<line x1="367.2" y1="441.1" x2="371.6" y2="441.1" stroke="#1a1a1a" stroke-width="0.9"/>
<path d="M337.7 403.8L339.9 406L337.7 408.2L335.5 406Z" fill="#fff" stroke="#111" stroke-width="0.9"/>
<path d="M329 412.4L331.2 414.6L329 416.8L326.8 414.6Z" fill="#fff" stroke="#111" stroke-width="0.9"/>
<path d="M337.7 412.4L339.9 414.6L337.7 416.8L335.5 414.6Z" fill="#fff" stroke="#111" stroke-width="0.9"/>
<path d="M346 412.4L348.2 414.6L346 416.8L343.8 414.6Z" fill="#fff" stroke="#111" stroke-width="0.9"/>
<path d="M337.7 420.5L339.9 422.7L337.7 424.9L335.5 422.7Z" fill="#fff" stroke="#111" stroke-width="0.9"/>
<path d="M337.7 429.5L339.9 431.7L337.7 433.9L335.5 431.7Z" fill="#fff" stroke="#111" stroke-width="0.9"/>
<path d="M360.8 429.5L363 431.7L360.8 433.9L358.6 431.7Z" fill="#fff" stroke="#111" stroke-width="0.9"/>
<path d="M364.8 429.5L367 431.7L364.8 433.9L362.6 431.7Z" fill="#fff" stroke="#111" stroke-width="0.9"/>
<path d="M369.4 429.5L371.6 431.7L369.4 433.9L367.2 431.7Z" fill="#fff" stroke="#111" stroke-width="0.9"/>
<path d="M374 429.5L376.2 431.7L374 433.9L371.8 431.7Z" fill="#fff" stroke="#111" stroke-width="0.9"/>
<path d="M378.3 429.5L380.5 431.7L378.3 433.9L376.1 431.7Z" fill="#fff" stroke="#111" stroke-width="0.9"/>
<path d="M369.4 437.4L371.6 439.6L369.4 441.8L367.2 439.6Z" fill="#fff" stroke="#111" stroke-width="0.9"/>
<path d="M369.4 445.3L371.6 447.5L369.4 449.7L367.2 447.5Z" fill="#fff" stroke="#111" stroke-width="0.9"/>
<path d="M392.6 462.6L394.8 464.8L392.6 467L390.4 464.8Z" fill="#fff" stroke="#111" stroke-width="0.9"/>
<path d="M395.8 462.6L398 464.8L395.8 467L393.6 464.8Z" fill="#fff" stroke="#111" stroke-width="0.9"/>
<path d="M399.2 462.6L401.4 464.8L399.2 467L397 464.8Z" fill="#fff" stroke="#111" stroke-width="0.9"/>
<path d="M402.7 462.6L404.9 464.8L402.7 467L400.5 464.8Z" fill="#fff" stroke="#111" stroke-width="0.9"/>
<path d="M406.1 462.6L408.3 464.8L406.1 467L403.9 464.8Z" fill="#fff" stroke="#111" stroke-width="0.9"/>
<path d="M409.6 462.6L411.8 464.8L409.6 467L407.4 464.8Z" fill="#fff" stroke="#111" stroke-width="0.9"/>
<path d="M424.3 462.6L426.5 464.8L424.3 467L422.1 464.8Z" fill="#fff" stroke="#111" stroke-width="0.9"/>
<path d="M428.4 462.6L430.6 464.8L428.4 467L426.2 464.8Z" fill="#fff" stroke="#111" stroke-width="0.9"/>
<path d="M432.8 462.6L435 464.8L432.8 467L430.6 464.8Z" fill="#fff" stroke="#111" stroke-width="0.9"/>
<path d="M437 462.6L439.2 464.8L437 467L434.8 464.8Z" fill="#fff" stroke="#111" stroke-width="0.9"/>
<path d="M441.3 462.6L443.5 464.8L441.3 467L439.1 464.8Z" fill="#fff" stroke="#111" stroke-width="0.9"/>
<line x1="338.3" y1="397.1" x2="379.8" y2="397.1" stroke="#333" stroke-width="1.0"/>
<text x="359.05" y="396.3" font-size="7.6" text-anchor="middle" stroke="#1a1a1a" stroke-width="0.2">**</text>
<text x="337.7" y="494.1" font-size="7.6" text-anchor="middle"><tspan font-style="italic">Hbb</tspan><tspan font-size="5.8" dy="-2.5">th3/+</tspan></text>
<text x="337.7" y="503.5" font-size="7.5" text-anchor="middle">sing</text>
<text x="369.4" y="494.1" font-size="7.6" text-anchor="middle"><tspan font-style="italic">Hbb</tspan><tspan font-size="5.8" dy="-2.5">th3/+</tspan></text>
<text x="369.4" y="503.5" font-size="7.5" text-anchor="middle">diff</text>
<text x="401" y="494.1" font-size="7.6" text-anchor="middle"><tspan font-style="italic">Hbb</tspan><tspan font-size="5.8" dy="-2.5">+/+</tspan></text>
<text x="401" y="503.5" font-size="7.5" text-anchor="middle">sing</text>
<text x="432.7" y="494.1" font-size="7.6" text-anchor="middle"><tspan font-style="italic">Hbb</tspan><tspan font-size="5.8" dy="-2.5">+/+</tspan></text>
<text x="432.7" y="503.5" font-size="7.5" text-anchor="middle">diff</text>
<text transform="translate(294.3 430) rotate(-90)" x="0" y="0" font-size="8.7" stroke="#1a1a1a" stroke-width="0.3" text-anchor="middle" textLength="69.8" lengthAdjust="spacingAndGlyphs">Relative levels of splenic</text>
<text transform="translate(305.5 430) rotate(-90)" x="0" y="0" font-size="8.7" stroke="#1a1a1a" stroke-width="0.3" text-anchor="middle" textLength="39.2" lengthAdjust="spacingAndGlyphs">erythropoiesis</text>
<line x1="321.9" y1="522.22" x2="321.9" y2="625.7" stroke="#1a1a1a" stroke-width="1.2"/>
<line x1="319.1" y1="625.2" x2="321.9" y2="625.2" stroke="#1a1a1a" stroke-width="1.2"/>
<text x="316.8" y="628.11" font-size="8.3" text-anchor="end">0</text>
<line x1="319.1" y1="591.74" x2="321.9" y2="591.74" stroke="#1a1a1a" stroke-width="1.2"/>
<text x="316.8" y="594.64" font-size="8.3" text-anchor="end">2</text>
<line x1="319.1" y1="558.28" x2="321.9" y2="558.28" stroke="#1a1a1a" stroke-width="1.2"/>
<text x="316.8" y="561.19" font-size="8.3" text-anchor="end">4</text>
<line x1="319.1" y1="524.82" x2="321.9" y2="524.82" stroke="#1a1a1a" stroke-width="1.2"/>
<text x="316.8" y="527.73" font-size="8.3" text-anchor="end">6</text>
<rect x="327.9" y="559" width="19.6" height="66.2" fill="#c80828"/>
<rect x="359.6" y="575.8" width="19.6" height="49.4" fill="#0f4a82"/>
<rect x="391.5" y="604" width="19.3" height="21.2" fill="#3aa63c"/>
<rect x="423.2" y="608.1" width="19" height="17.1" fill="#5e1f6e"/>
<line x1="321.4" y1="625.2" x2="449.5" y2="625.2" stroke="#1a1a1a" stroke-width="1.1"/>
<line x1="337.7" y1="625.2" x2="337.7" y2="627.4" stroke="#1a1a1a" stroke-width="1.1"/>
<line x1="369.4" y1="625.2" x2="369.4" y2="627.4" stroke="#1a1a1a" stroke-width="1.1"/>
<line x1="401.15" y1="625.2" x2="401.15" y2="627.4" stroke="#1a1a1a" stroke-width="1.1"/>
<line x1="432.7" y1="625.2" x2="432.7" y2="627.4" stroke="#1a1a1a" stroke-width="1.1"/>
<line x1="337.7" y1="544" x2="337.7" y2="574" stroke="#1a1a1a" stroke-width="0.9"/>
<line x1="335.5" y1="544" x2="339.9" y2="544" stroke="#1a1a1a" stroke-width="0.9"/>
<line x1="335.5" y1="574" x2="339.9" y2="574" stroke="#1a1a1a" stroke-width="0.9"/>
<line x1="369.4" y1="570.5" x2="369.4" y2="581.1" stroke="#1a1a1a" stroke-width="0.9"/>
<line x1="367.2" y1="570.5" x2="371.6" y2="570.5" stroke="#1a1a1a" stroke-width="0.9"/>
<line x1="367.2" y1="581.1" x2="371.6" y2="581.1" stroke="#1a1a1a" stroke-width="0.9"/>
<line x1="401.15" y1="589.6" x2="401.15" y2="618.4" stroke="#1a1a1a" stroke-width="0.9"/>
<line x1="398.95" y1="589.6" x2="403.35" y2="589.6" stroke="#1a1a1a" stroke-width="0.9"/>
<line x1="398.95" y1="618.4" x2="403.35" y2="618.4" stroke="#1a1a1a" stroke-width="0.9"/>
<path d="M337.1 539L339.3 541.2L337.1 543.4L334.9 541.2Z" fill="#fff" stroke="#111" stroke-width="0.9"/>
<path d="M337.1 547.6L339.3 549.8L337.1 552L334.9 549.8Z" fill="#fff" stroke="#111" stroke-width="0.9"/>
<path d="M328.5 556.3L330.7 558.5L328.5 560.7L326.3 558.5Z" fill="#fff" stroke="#111" stroke-width="0.9"/>
<path d="M337.1 556.5L339.3 558.7L337.1 560.9L334.9 558.7Z" fill="#fff" stroke="#111" stroke-width="0.9"/>
<path d="M346 556.3L348.2 558.5L346 560.7L343.8 558.5Z" fill="#fff" stroke="#111" stroke-width="0.9"/>
<path d="M338.1 581L340.3 583.2L338.1 585.4L335.9 583.2Z" fill="#fff" stroke="#111" stroke-width="0.9"/>
<path d="M366 564.6L368.2 566.8L366 569L363.8 566.8Z" fill="#fff" stroke="#111" stroke-width="0.9"/>
<path d="M372.3 564.6L374.5 566.8L372.3 569L370.1 566.8Z" fill="#fff" stroke="#111" stroke-width="0.9"/>
<path d="M360.8 572.6L363 574.8L360.8 577L358.6 574.8Z" fill="#fff" stroke="#111" stroke-width="0.9"/>
<path d="M364.8 572.6L367 574.8L364.8 577L362.6 574.8Z" fill="#fff" stroke="#111" stroke-width="0.9"/>
<path d="M368.8 572.6L371 574.8L368.8 577L366.6 574.8Z" fill="#fff" stroke="#111" stroke-width="0.9"/>
<path d="M373.5 572.6L375.7 574.8L373.5 577L371.3 574.8Z" fill="#fff" stroke="#111" stroke-width="0.9"/>
<path d="M377.8 572.6L380 574.8L377.8 577L375.6 574.8Z" fill="#fff" stroke="#111" stroke-width="0.9"/>
<path d="M369 580.5L371.2 582.7L369 584.9L366.8 582.7Z" fill="#fff" stroke="#111" stroke-width="0.9"/>
<path d="M369 589.1L371.2 591.3L369 593.5L366.8 591.3Z" fill="#fff" stroke="#111" stroke-width="0.9"/>
<path d="M400.9 573L403.1 575.2L400.9 577.4L398.7 575.2Z" fill="#fff" stroke="#111" stroke-width="0.9"/>
<path d="M392.4 606.5L394.6 608.7L392.4 610.9L390.2 608.7Z" fill="#fff" stroke="#111" stroke-width="0.9"/>
<path d="M396.7 606.5L398.9 608.7L396.7 610.9L394.5 608.7Z" fill="#fff" stroke="#111" stroke-width="0.9"/>
<path d="M400.9 606.5L403.1 608.7L400.9 610.9L398.7 608.7Z" fill="#fff" stroke="#111" stroke-width="0.9"/>
<path d="M405.3 606.5L407.5 608.7L405.3 610.9L403.1 608.7Z" fill="#fff" stroke="#111" stroke-width="0.9"/>
<path d="M409.7 606.5L411.9 608.7L409.7 610.9L407.5 608.7Z" fill="#fff" stroke="#111" stroke-width="0.9"/>
<path d="M424.3 606.5L426.5 608.7L424.3 610.9L422.1 608.7Z" fill="#fff" stroke="#111" stroke-width="0.9"/>
<path d="M428.6 606.5L430.8 608.7L428.6 610.9L426.4 608.7Z" fill="#fff" stroke="#111" stroke-width="0.9"/>
<path d="M432.8 606.5L435 608.7L432.8 610.9L430.6 608.7Z" fill="#fff" stroke="#111" stroke-width="0.9"/>
<path d="M437 606.5L439.2 608.7L437 610.9L434.8 608.7Z" fill="#fff" stroke="#111" stroke-width="0.9"/>
<path d="M441.3 606.5L443.5 608.7L441.3 610.9L439.1 608.7Z" fill="#fff" stroke="#111" stroke-width="0.9"/>
<line x1="338.3" y1="536.2" x2="369.4" y2="536.2" stroke="#333" stroke-width="1.0"/>
<text x="353.85" y="535.4" font-size="7.6" text-anchor="middle" stroke="#1a1a1a" stroke-width="0.2">*</text>
<text x="337.7" y="637.6" font-size="7.6" text-anchor="middle"><tspan font-style="italic">Hbb</tspan><tspan font-size="5.8" dy="-2.5">th3/+</tspan></text>
<text x="337.7" y="647" font-size="7.5" text-anchor="middle">sing</text>
<text x="369.4" y="637.6" font-size="7.6" text-anchor="middle"><tspan font-style="italic">Hbb</tspan><tspan font-size="5.8" dy="-2.5">th3/+</tspan></text>
<text x="369.4" y="647" font-size="7.5" text-anchor="middle">diff</text>
<text x="401.15" y="637.6" font-size="7.6" text-anchor="middle"><tspan font-style="italic">Hbb</tspan><tspan font-size="5.8" dy="-2.5">+/+</tspan></text>
<text x="401.15" y="647" font-size="7.5" text-anchor="middle">sing</text>
<text x="432.7" y="637.6" font-size="7.6" text-anchor="middle"><tspan font-style="italic">Hbb</tspan><tspan font-size="5.8" dy="-2.5">+/+</tspan></text>
<text x="432.7" y="647" font-size="7.5" text-anchor="middle">diff</text>
<text transform="translate(294.3 574) rotate(-90)" x="0" y="0" font-size="8.7" stroke="#1a1a1a" stroke-width="0.3" text-anchor="middle" textLength="87.8" lengthAdjust="spacingAndGlyphs">Relative levels of bone marrow</text>
<text transform="translate(305.5 574) rotate(-90)" x="0" y="0" font-size="8.7" stroke="#1a1a1a" stroke-width="0.3" text-anchor="middle" textLength="39.7" lengthAdjust="spacingAndGlyphs">erythropoiesis</text>
</svg>
<div class="frame"></div>
</body></html>
